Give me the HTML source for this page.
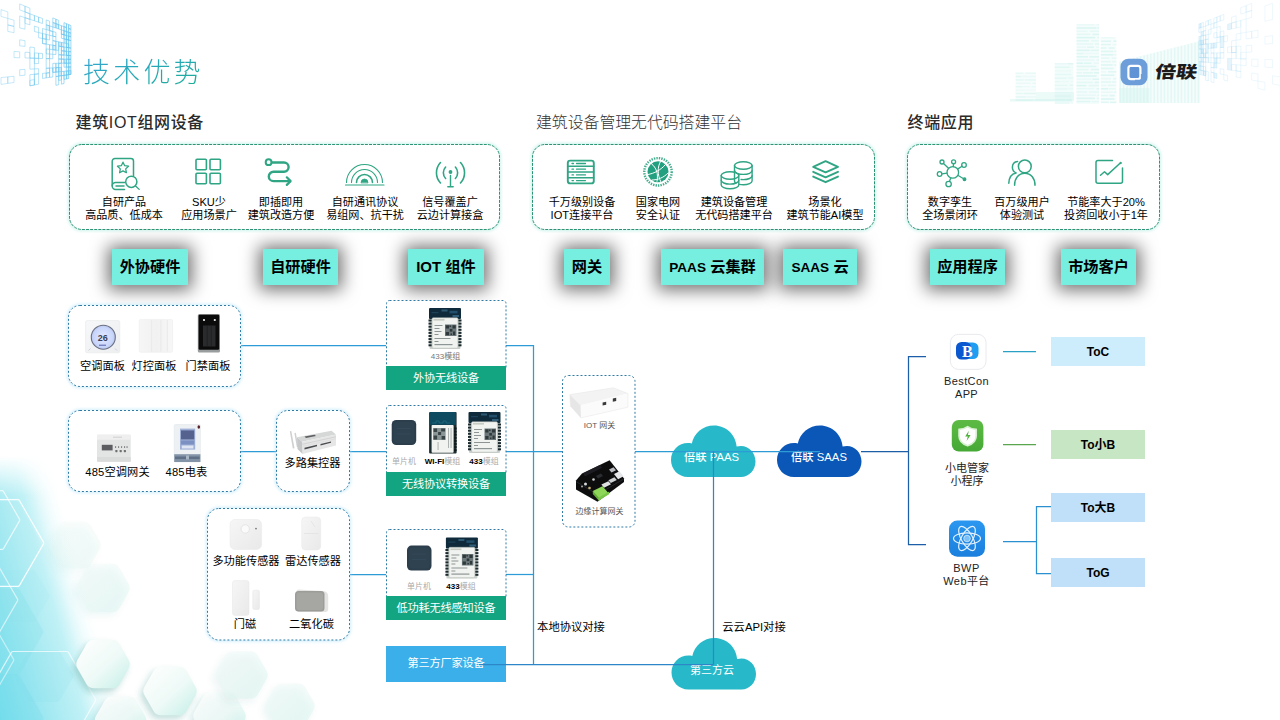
<!DOCTYPE html>
<html lang="zh-CN">
<head>
<meta charset="utf-8">
<title>技术优势</title>
<style>
*{margin:0;padding:0;box-sizing:border-box}
html,body{width:1280px;height:720px;overflow:hidden;background:#fff}
body{font-family:"Liberation Sans","Noto Sans CJK SC",sans-serif;color:#000}
#stage{position:relative;width:1280px;height:720px;overflow:hidden;background:#fff}
.abs{position:absolute}
svg{position:absolute;left:0;top:0;overflow:visible}
.title{position:absolute;left:83px;top:53px;font-size:27px;font-weight:300;letter-spacing:3.2px;line-height:40px;white-space:nowrap;
 background:linear-gradient(160deg,#3aa6d8 0%,#22a9b4 50%,#1fae8e 100%);-webkit-background-clip:text;background-clip:text;color:transparent}
.h{position:absolute;top:111.2px;font-size:16px;letter-spacing:.65px;line-height:24px;white-space:nowrap;color:#2b2b2b}
.h.m{font-weight:500;color:#2a2a2a}
.h.l{font-weight:300;color:#333;letter-spacing:0;font-size:15.85px}
.dbox{position:absolute;border:1px dashed #36a98c;border-radius:18px;background:#fff;box-shadow:0 0 6px 2px rgba(120,225,205,.2)}
.it{position:absolute;top:195.7px;width:120px;margin-left:-60px;text-align:center;font-size:11.1px;line-height:13px;white-space:nowrap;color:#000;letter-spacing:0}
.tag{position:absolute;top:249px;height:36px;background:#76efe1;box-shadow:0 1px 17px 4px rgba(0,0,0,.56);font-weight:700;font-size:15.2px;line-height:35px;text-align:center;white-space:nowrap;color:#000}
.tag i{font-style:normal;font-size:13.6px}
.bbox{position:absolute;border:1px dashed #3c93c4;border-radius:16px;background:#fff;box-shadow:0 0 5px 1px rgba(150,215,245,.35)}
.lb{position:absolute;font-size:11.2px;line-height:13px;white-space:nowrap;text-align:center;color:#000;transform:translateX(-50%)}
.sm{position:absolute;font-size:8px;line-height:10px;white-space:nowrap;color:#8a8a8a;transform:translateX(-50%)}
.sm b{color:#000;font-weight:700}
.cbox{position:absolute;left:386px;width:120px;border:1px dashed #3384b4;border-radius:3px;background:#fff}
.gbar{position:absolute;left:386px;width:120px;height:24px;background:#13a582;color:#fff;font-size:11.2px;line-height:25px;text-align:center;white-space:nowrap;letter-spacing:-.2px}
.tobox{position:absolute;left:1051px;width:94px;height:29px;font-weight:700;font-size:12px;line-height:30px;text-align:center;color:#000}
.app{position:absolute;font-size:11px;line-height:13px;text-align:center;white-space:nowrap;color:#222;transform:translateX(-50%);letter-spacing:.4px}
.ct{position:absolute;font-size:11.3px;line-height:14px;color:#fff;white-space:nowrap;transform:translateX(-50%);font-weight:500}
</style>
</head>
<body>
<div id="stage">
<!-- decorative background -->
<svg width="1280" height="720" viewBox="0 0 1280 720">
<defs>
 <linearGradient id="gCy" gradientUnits="userSpaceOnUse" x1="-43.600" y1="564.600" x2="72.900" y2="532.200"><stop offset="0" stop-color="#76deec"/><stop offset=".265" stop-color="#92e5f0"/><stop offset=".51" stop-color="#afecf3"/><stop offset=".68" stop-color="#c0f1f6"/><stop offset=".76" stop-color="#d6f6f9"/><stop offset="1" stop-color="#ffffff" stop-opacity="0"/></linearGradient>
 <linearGradient id="gCyV" gradientUnits="userSpaceOnUse" x1="0" y1="456" x2="0" y2="496"><stop offset="0" stop-color="#fff" stop-opacity="1"/><stop offset="1" stop-color="#fff" stop-opacity="0"/></linearGradient>
 <linearGradient id="gHex" x1="0" y1="0" x2="1" y2="1"><stop offset="0" stop-color="#ffffff"/><stop offset=".55" stop-color="#eefaf7"/><stop offset="1" stop-color="#c4eee6"/></linearGradient>
 <linearGradient id="gHex2" x1="0" y1="0" x2="1" y2="1"><stop offset="0" stop-color="#f4fcfa"/><stop offset="1" stop-color="#d3f3ec"/></linearGradient>
 <filter id="fSh" x="-30%" y="-30%" width="160%" height="160%"><feGaussianBlur stdDeviation="3"/></filter>
 <filter id="fB2" x="-10%" y="-10%" width="120%" height="120%"><feGaussianBlur stdDeviation=".6"/></filter>
 <filter id="fB1" x="-10%" y="-10%" width="120%" height="120%"><feGaussianBlur stdDeviation=".35"/></filter>
</defs>
<g>
<rect x="0" y="455" width="140" height="265" fill="url(#gCy)"/>
<path d="M41.0 543.3Q42.0 545.0 41.0 546.7L18.0 586.6Q17.0 588.3 15.0 588.3L-31.0 588.3Q-33.0 588.3 -34.0 586.6L-57.0 546.7Q-58.0 545.0 -57.0 543.3L-34.0 503.4Q-33.0 501.7 -31.0 501.7L15.0 501.7Q17.0 501.7 18.0 503.4Z" fill="#8fe2ec" fill-opacity="0.07"/>
<path d="M43.0 630.3Q44.0 632.0 43.0 633.7L20.0 673.6Q19.0 675.3 17.0 675.3L-29.0 675.3Q-31.0 675.3 -32.0 673.6L-55.0 633.7Q-56.0 632.0 -55.0 630.3L-32.0 590.4Q-31.0 588.7 -29.0 588.7L17.0 588.7Q19.0 588.7 20.0 590.4Z" fill="#74dae8" fill-opacity="0.2"/>
<path d="M43.0 716.3Q44.0 718.0 43.0 719.7L20.0 759.6Q19.0 761.3 17.0 761.3L-29.0 761.3Q-31.0 761.3 -32.0 759.6L-55.0 719.7Q-56.0 718.0 -55.0 716.3L-32.0 676.4Q-31.0 674.7 -29.0 674.7L17.0 674.7Q19.0 674.7 20.0 676.4Z" fill="#6ad6e6" fill-opacity="0.22"/>
<path d="M73.0 674.3Q74.0 676.0 73.0 677.7L60.0 700.2Q59.0 702.0 57.0 702.0L31.0 702.0Q29.0 702.0 28.0 700.2L15.0 677.7Q14.0 676.0 15.0 674.3L28.0 651.8Q29.0 650.0 31.0 650.0L57.0 650.0Q59.0 650.0 60.0 651.8Z" fill="#7fdde9" fill-opacity="0.14"/>
<path d="M49.0 594.3Q50.0 596.0 49.0 597.7L36.0 620.2Q35.0 622.0 33.0 622.0L7.0 622.0Q5.0 622.0 4.0 620.2L-9.0 597.7Q-10.0 596.0 -9.0 594.3L4.0 571.8Q5.0 570.0 7.0 570.0L33.0 570.0Q35.0 570.0 36.0 571.8Z" fill="#86dde8" fill-opacity="0.1"/>
<path d="M43.5 542.1Q44.0 543.0 43.5 543.9L19.5 585.4Q19.0 586.3 18.0 586.3L-30.0 586.3Q-31.0 586.3 -31.5 585.4L-55.5 543.9Q-56.0 543.0 -55.5 542.1L-31.5 500.6Q-31.0 499.7 -30.0 499.7L18.0 499.7Q19.0 499.7 19.5 500.6Z" fill="none" stroke="#fff" stroke-opacity="0.9" stroke-width="1.200"/>
<path d="M19.5 519.1Q20.0 520.0 19.5 520.9L3.5 548.6Q3.0 549.4 2.0 549.4L-30.0 549.4Q-31.0 549.4 -31.5 548.6L-47.5 520.9Q-48.0 520.0 -47.5 519.1L-31.5 491.4Q-31.0 490.6 -30.0 490.6L2.0 490.6Q3.0 490.6 3.5 491.4Z" fill="none" stroke="#fff" stroke-opacity="0.7" stroke-width="1.200"/>
<path d="M17.5 599.1Q18.0 600.0 17.5 600.9L-1.5 633.8Q-2.0 634.6 -3.0 634.6L-41.0 634.6Q-42.0 634.6 -42.5 633.8L-61.5 600.9Q-62.0 600.0 -61.5 599.1L-42.5 566.2Q-42.0 565.4 -41.0 565.4L-3.0 565.4Q-2.0 565.4 -1.5 566.2Z" fill="none" stroke="#fff" stroke-opacity="0.6" stroke-width="1.200"/>
<path d="M95.5 699.1Q96.0 700.0 95.5 700.9L68.5 747.6Q68.0 748.5 67.0 748.5L13.0 748.5Q12.0 748.5 11.5 747.6L-15.5 700.9Q-16.0 700.0 -15.5 699.1L11.5 652.4Q12.0 651.5 13.0 651.5L67.0 651.5Q68.0 651.5 68.5 652.4Z" fill="none" stroke="#fff" stroke-opacity="0.7" stroke-width="1.200"/>
<path d="M13.5 659.1Q14.0 660.0 13.5 660.9L-7.5 697.2Q-8.0 698.1 -9.0 698.1L-51.0 698.1Q-52.0 698.1 -52.5 697.2L-73.5 660.9Q-74.0 660.0 -73.5 659.1L-52.5 622.8Q-52.0 621.9 -51.0 621.9L-9.0 621.9Q-8.0 621.9 -7.5 622.8Z" fill="none" stroke="#fff" stroke-opacity="0.5" stroke-width="1.200"/>
<rect x="0" y="450" width="140" height="60" fill="url(#gCyV)"/>
</g>
<path d="M128.5 583.7Q131.0 588.0 128.5 592.3L119.5 607.9Q117.0 612.2 112.0 612.2L94.0 612.2Q89.0 612.2 86.5 607.9L77.5 592.3Q75.0 588.0 77.5 583.7L86.5 568.1Q89.0 563.8 94.0 563.8L112.0 563.8Q117.0 563.8 119.5 568.1Z" transform="translate(-3,4)" fill="#2f8f86" fill-opacity="0.06" filter="url(#fSh)"/>
<path d="M128.5 583.7Q131.0 588.0 128.5 592.3L119.5 607.9Q117.0 612.2 112.0 612.2L94.0 612.2Q89.0 612.2 86.5 607.9L77.5 592.3Q75.0 588.0 77.5 583.7L86.5 568.1Q89.0 563.8 94.0 563.8L112.0 563.8Q117.0 563.8 119.5 568.1Z" fill="url(#gHex2)" fill-opacity="0.4"/>
<path d="M99.5 540.7Q102.0 545.0 99.5 549.3L91.0 564.1Q88.5 568.4 83.5 568.4L66.5 568.4Q61.5 568.4 59.0 564.1L50.5 549.3Q48.0 545.0 50.5 540.7L59.0 525.9Q61.5 521.6 66.5 521.6L83.5 521.6Q88.5 521.6 91.0 525.9Z" transform="translate(-3,4)" fill="#2f8f86" fill-opacity="0.04" filter="url(#fSh)"/>
<path d="M99.5 540.7Q102.0 545.0 99.5 549.3L91.0 564.1Q88.5 568.4 83.5 568.4L66.5 568.4Q61.5 568.4 59.0 564.1L50.5 549.3Q48.0 545.0 50.5 540.7L59.0 525.9Q61.5 521.6 66.5 521.6L83.5 521.6Q88.5 521.6 91.0 525.9Z" fill="url(#gHex2)" fill-opacity="0.25"/>
<path d="M128.5 659.7Q131.0 664.0 128.5 668.3L119.5 683.9Q117.0 688.2 112.0 688.2L94.0 688.2Q89.0 688.2 86.5 683.9L77.5 668.3Q75.0 664.0 77.5 659.7L86.5 644.1Q89.0 639.8 94.0 639.8L112.0 639.8Q117.0 639.8 119.5 644.1Z" transform="translate(-3,4)" fill="#2f8f86" fill-opacity="0.3" filter="url(#fSh)"/>
<path d="M128.5 659.7Q131.0 664.0 128.5 668.3L119.5 683.9Q117.0 688.2 112.0 688.2L94.0 688.2Q89.0 688.2 86.5 683.9L77.5 668.3Q75.0 664.0 77.5 659.7L86.5 644.1Q89.0 639.8 94.0 639.8L112.0 639.8Q117.0 639.8 119.5 644.1Z" fill="url(#gHex)" fill-opacity="1"/>
<path d="M195.5 686.7Q198.0 691.0 195.5 695.3L186.5 710.9Q184.0 715.2 179.0 715.2L161.0 715.2Q156.0 715.2 153.5 710.9L144.5 695.3Q142.0 691.0 144.5 686.7L153.5 671.1Q156.0 666.8 161.0 666.8L179.0 666.8Q184.0 666.8 186.5 671.1Z" transform="translate(-3,4)" fill="#2f8f86" fill-opacity="0.28" filter="url(#fSh)"/>
<path d="M195.5 686.7Q198.0 691.0 195.5 695.3L186.5 710.9Q184.0 715.2 179.0 715.2L161.0 715.2Q156.0 715.2 153.5 710.9L144.5 695.3Q142.0 691.0 144.5 686.7L153.5 671.1Q156.0 666.8 161.0 666.8L179.0 666.8Q184.0 666.8 186.5 671.1Z" fill="url(#gHex)" fill-opacity="1"/>
<path d="M145.0 715.7Q147.5 720.0 145.0 724.3L136.5 739.1Q134.0 743.4 129.0 743.4L112.0 743.4Q107.0 743.4 104.5 739.1L96.0 724.3Q93.5 720.0 96.0 715.7L104.5 700.9Q107.0 696.6 112.0 696.6L129.0 696.6Q134.0 696.6 136.5 700.9Z" transform="translate(-3,4)" fill="#2f8f86" fill-opacity="0.25" filter="url(#fSh)"/>
<path d="M145.0 715.7Q147.5 720.0 145.0 724.3L136.5 739.1Q134.0 743.4 129.0 743.4L112.0 743.4Q107.0 743.4 104.5 739.1L96.0 724.3Q93.5 720.0 96.0 715.7L104.5 700.9Q107.0 696.6 112.0 696.6L129.0 696.6Q134.0 696.6 136.5 700.9Z" fill="url(#gHex)" fill-opacity="0.9"/>
<path d="M244.5 711.7Q247.0 716.0 244.5 720.3L235.8 735.5Q233.2 739.8 228.2 739.8L210.8 739.8Q205.8 739.8 203.2 735.5L194.5 720.3Q192.0 716.0 194.5 711.7L203.2 696.5Q205.8 692.2 210.8 692.2L228.2 692.2Q233.2 692.2 235.8 696.5Z" transform="translate(-3,4)" fill="#2f8f86" fill-opacity="0.2" filter="url(#fSh)"/>
<path d="M244.5 711.7Q247.0 716.0 244.5 720.3L235.8 735.5Q233.2 739.8 228.2 739.8L210.8 739.8Q205.8 739.8 203.2 735.5L194.5 720.3Q192.0 716.0 194.5 711.7L203.2 696.5Q205.8 692.2 210.8 692.2L228.2 692.2Q233.2 692.2 235.8 696.5Z" fill="url(#gHex)" fill-opacity="0.85"/>
<path d="M266.5 670.7Q269.0 675.0 266.5 679.3L257.8 694.5Q255.2 698.8 250.2 698.8L232.8 698.8Q227.8 698.8 225.2 694.5L216.5 679.3Q214.0 675.0 216.5 670.7L225.2 655.5Q227.8 651.2 232.8 651.2L250.2 651.2Q255.2 651.2 257.8 655.5Z" transform="translate(-3,4)" fill="#2f8f86" fill-opacity="0.08" filter="url(#fSh)"/>
<path d="M266.5 670.7Q269.0 675.0 266.5 679.3L257.8 694.5Q255.2 698.8 250.2 698.8L232.8 698.8Q227.8 698.8 225.2 694.5L216.5 679.3Q214.0 675.0 216.5 670.7L225.2 655.5Q227.8 651.2 232.8 651.2L250.2 651.2Q255.2 651.2 257.8 655.5Z" fill="url(#gHex2)" fill-opacity="0.5"/>
<path d="M313.5 701.7Q316.0 706.0 313.5 710.3L305.5 724.2Q303.0 728.5 298.0 728.5L282.0 728.5Q277.0 728.5 274.5 724.2L266.5 710.3Q264.0 706.0 266.5 701.7L274.5 687.8Q277.0 683.5 282.0 683.5L298.0 683.5Q303.0 683.5 305.5 687.8Z" transform="translate(-3,4)" fill="#2f8f86" fill-opacity="0.07" filter="url(#fSh)"/>
<path d="M313.5 701.7Q316.0 706.0 313.5 710.3L305.5 724.2Q303.0 728.5 298.0 728.5L282.0 728.5Q277.0 728.5 274.5 724.2L266.5 710.3Q264.0 706.0 266.5 701.7L274.5 687.8Q277.0 683.5 282.0 683.5L298.0 683.5Q303.0 683.5 305.5 687.8Z" fill="url(#gHex2)" fill-opacity="0.45"/>
<g filter="url(#fB1)">
<polygon points="1.0,9.6 7.8,11.9 7.8,18.4 1.0,16.4" fill="none" fill-opacity=".25" stroke="#6cc6ee" stroke-opacity="0.52" stroke-width=".700"/>
<polygon points="1.0,77.6 7.8,76.9 7.8,83.4 1.0,84.4" fill="none" fill-opacity=".25" stroke="#6cc6ee" stroke-opacity="0.52" stroke-width=".700"/>
<polygon points="7.8,18.4 14.0,20.2 14.0,26.4 7.8,24.9" fill="none" fill-opacity=".25" stroke="#6cc6ee" stroke-opacity="0.55" stroke-width=".700"/>
<polygon points="7.8,24.9 14.0,26.4 14.0,32.7 7.8,31.4" fill="none" fill-opacity=".25" stroke="#6cc6ee" stroke-opacity="0.55" stroke-width=".700"/>
<polygon points="7.8,76.9 14.0,76.3 14.0,82.5 7.8,83.4" fill="none" fill-opacity=".25" stroke="#6cc6ee" stroke-opacity="0.55" stroke-width=".700"/>
<polygon points="14.0,51.4 19.7,51.8 19.7,57.8 14.0,57.6" fill="none" fill-opacity=".25" stroke="#6cc6ee" stroke-opacity="0.57" stroke-width=".700"/>
<polygon points="19.7,3.9 25.0,6.2 25.0,11.9 19.7,9.9" fill="none" fill-opacity=".25" stroke="#6cc6ee" stroke-opacity="0.60" stroke-width=".700"/>
<polygon points="19.7,15.9 25.0,17.7 25.0,29.2 19.7,27.9" fill="none" fill-opacity=".25" stroke="#6cc6ee" stroke-opacity="0.60" stroke-width=".700"/>
<polygon points="19.7,39.8 25.0,40.7 25.0,46.4 19.7,45.8" fill="none" fill-opacity=".25" stroke="#6cc6ee" stroke-opacity="0.60" stroke-width=".700"/>
<polygon points="19.7,69.7 25.0,69.4 25.0,75.2 19.7,75.7" fill="none" fill-opacity=".25" stroke="#6cc6ee" stroke-opacity="0.60" stroke-width=".700"/>
<polygon points="25.0,6.2 29.9,8.2 29.9,13.8 25.0,11.9" fill="none" fill-opacity=".25" stroke="#6cc6ee" stroke-opacity="0.62" stroke-width=".700"/>
<polygon points="25.0,11.9 29.9,13.8 29.9,19.3 25.0,17.7" fill="none" fill-opacity=".25" stroke="#6cc6ee" stroke-opacity="0.62" stroke-width=".700"/>
<polygon points="25.0,17.7 29.9,19.3 29.9,24.8 25.0,23.4" fill="none" fill-opacity=".25" stroke="#6cc6ee" stroke-opacity="0.62" stroke-width=".700"/>
<polygon points="25.0,52.2 29.9,52.5 29.9,58.1 25.0,57.9" fill="none" fill-opacity=".25" stroke="#6cc6ee" stroke-opacity="0.62" stroke-width=".700"/>
<polygon points="29.9,13.8 34.4,15.5 34.4,20.8 29.9,19.3" fill="none" fill-opacity=".25" stroke="#6cc6ee" stroke-opacity="0.65" stroke-width=".700"/>
<polygon points="29.9,47.0 34.4,47.5 34.4,58.2 29.9,58.1" fill="none" fill-opacity=".25" stroke="#6cc6ee" stroke-opacity="0.65" stroke-width=".700"/>
<polygon points="29.9,58.1 34.4,58.2 34.4,68.9 29.9,69.2" fill="none" fill-opacity=".25" stroke="#6cc6ee" stroke-opacity="0.65" stroke-width=".700"/>
<polygon points="29.9,74.7 34.4,74.3 34.4,85.0 29.9,85.8" fill="none" fill-opacity=".25" stroke="#6cc6ee" stroke-opacity="0.65" stroke-width=".700"/>
<polygon points="29.9,80.3 34.4,79.6 34.4,85.0 29.9,85.8" fill="none" fill-opacity=".25" stroke="#6cc6ee" stroke-opacity="0.65" stroke-width=".700"/>
<polygon points="34.4,15.5 38.6,17.1 38.6,22.2 34.4,20.8" fill="none" fill-opacity=".25" stroke="#6cc6ee" stroke-opacity="0.67" stroke-width=".700"/>
<polygon points="34.4,26.2 38.6,27.4 38.6,32.5 34.4,31.5" fill="none" fill-opacity=".25" stroke="#6cc6ee" stroke-opacity="0.67" stroke-width=".700"/>
<polygon points="34.4,52.9 38.6,53.2 38.6,58.4 34.4,58.2" fill="none" fill-opacity=".25" stroke="#6cc6ee" stroke-opacity="0.67" stroke-width=".700"/>
<polygon points="34.4,58.2 38.6,58.4 38.6,63.5 34.4,63.6" fill="none" fill-opacity=".25" stroke="#6cc6ee" stroke-opacity="0.67" stroke-width=".700"/>
<polygon points="34.4,68.9 38.6,68.7 38.6,73.8 34.4,74.3" fill="none" fill-opacity=".25" stroke="#6cc6ee" stroke-opacity="0.67" stroke-width=".700"/>
<polygon points="34.4,74.3 38.6,73.8 38.6,84.2 34.4,85.0" fill="none" fill-opacity=".25" stroke="#6cc6ee" stroke-opacity="0.67" stroke-width=".700"/>
<polygon points="38.6,17.1 42.5,18.5 42.5,23.5 38.6,22.2" fill="none" fill-opacity=".25" stroke="#6cc6ee" stroke-opacity="0.70" stroke-width=".700"/>
<polygon points="38.6,32.5 42.5,33.5 42.5,38.5 38.6,37.7" fill="none" fill-opacity=".25" stroke="#6cc6ee" stroke-opacity="0.70" stroke-width=".700"/>
<polygon points="38.6,53.2 42.5,53.5 42.5,58.5 38.6,58.4" fill="none" fill-opacity=".25" stroke="#6cc6ee" stroke-opacity="0.70" stroke-width=".700"/>
<polygon points="42.5,28.5 46.2,29.6 46.2,39.3 42.5,38.5" fill="none" fill-opacity=".25" stroke="#6cc6ee" stroke-opacity="0.72" stroke-width=".700"/>
<polygon points="42.5,33.5 46.2,34.4 46.2,44.1 42.5,43.5" fill="none" fill-opacity=".25" stroke="#6cc6ee" stroke-opacity="0.72" stroke-width=".700"/>
<polygon points="42.5,38.5 46.2,39.3 46.2,44.1 42.5,43.5" fill="none" fill-opacity=".25" stroke="#6cc6ee" stroke-opacity="0.72" stroke-width=".700"/>
<polygon points="42.5,73.4 46.2,73.1 46.2,77.9 42.5,78.4" fill="none" fill-opacity=".25" stroke="#6cc6ee" stroke-opacity="0.72" stroke-width=".700"/>
<polygon points="46.2,19.9 49.6,21.2 49.6,25.9 46.2,24.8" fill="none" fill-opacity=".25" stroke="#6cc6ee" stroke-opacity="0.75" stroke-width=".700"/>
<polygon points="46.2,24.8 49.6,25.9 49.6,30.6 46.2,29.6" fill="#6cc6ee" fill-opacity=".25" stroke="#6cc6ee" stroke-opacity="0.75" stroke-width=".700"/>
<polygon points="46.2,34.4 49.6,35.3 49.6,40.0 46.2,39.3" fill="none" fill-opacity=".25" stroke="#6cc6ee" stroke-opacity="0.75" stroke-width=".700"/>
<polygon points="46.2,44.1 49.6,44.7 49.6,54.0 46.2,53.8" fill="none" fill-opacity=".25" stroke="#6cc6ee" stroke-opacity="0.75" stroke-width=".700"/>
<polygon points="46.2,48.9 49.6,49.3 49.6,58.7 46.2,58.6" fill="none" fill-opacity=".25" stroke="#6cc6ee" stroke-opacity="0.75" stroke-width=".700"/>
<polygon points="46.2,58.6 49.6,58.7 49.6,68.1 46.2,68.3" fill="none" fill-opacity=".25" stroke="#6cc6ee" stroke-opacity="0.75" stroke-width=".700"/>
<polygon points="46.2,68.3 49.6,68.1 49.6,72.7 46.2,73.1" fill="none" fill-opacity=".25" stroke="#6cc6ee" stroke-opacity="0.75" stroke-width=".700"/>
<polygon points="46.2,73.1 49.6,72.7 49.6,77.4 46.2,77.9" fill="none" fill-opacity=".25" stroke="#6cc6ee" stroke-opacity="0.75" stroke-width=".700"/>
<polygon points="49.6,25.9 52.8,27.0 52.8,31.5 49.6,30.6" fill="none" fill-opacity=".25" stroke="#6cc6ee" stroke-opacity="0.77" stroke-width=".700"/>
<polygon points="49.6,30.6 52.8,31.5 52.8,36.1 49.6,35.3" fill="none" fill-opacity=".25" stroke="#6cc6ee" stroke-opacity="0.77" stroke-width=".700"/>
<polygon points="49.6,44.7 52.8,45.2 52.8,49.7 49.6,49.3" fill="none" fill-opacity=".25" stroke="#6cc6ee" stroke-opacity="0.77" stroke-width=".700"/>
<polygon points="49.6,54.0 52.8,54.3 52.8,58.8 49.6,58.7" fill="none" fill-opacity=".25" stroke="#6cc6ee" stroke-opacity="0.77" stroke-width=".700"/>
<polygon points="49.6,68.1 52.8,67.9 52.8,77.0 49.6,77.4" fill="none" fill-opacity=".25" stroke="#6cc6ee" stroke-opacity="0.77" stroke-width=".700"/>
<polygon points="52.8,17.9 55.9,19.2 55.9,23.6 52.8,22.5" fill="none" fill-opacity=".25" stroke="#6cc6ee" stroke-opacity="0.80" stroke-width=".700"/>
<polygon points="52.8,22.5 55.9,23.6 55.9,28.0 52.8,27.0" fill="#6cc6ee" fill-opacity=".25" stroke="#6cc6ee" stroke-opacity="0.80" stroke-width=".700"/>
<polygon points="52.8,31.5 55.9,32.4 55.9,36.8 52.8,36.1" fill="none" fill-opacity=".25" stroke="#6cc6ee" stroke-opacity="0.80" stroke-width=".700"/>
<polygon points="52.8,36.1 55.9,36.8 55.9,41.3 52.8,40.6" fill="none" fill-opacity=".25" stroke="#6cc6ee" stroke-opacity="0.80" stroke-width=".700"/>
<polygon points="52.8,40.6 55.9,41.3 55.9,45.7 52.8,45.2" fill="none" fill-opacity=".25" stroke="#6cc6ee" stroke-opacity="0.80" stroke-width=".700"/>
<polygon points="52.8,45.2 55.9,45.7 55.9,50.1 52.8,49.7" fill="#6cc6ee" fill-opacity=".25" stroke="#6cc6ee" stroke-opacity="0.80" stroke-width=".700"/>
<polygon points="52.8,49.7 55.9,50.1 55.9,54.5 52.8,54.3" fill="none" fill-opacity=".25" stroke="#6cc6ee" stroke-opacity="0.80" stroke-width=".700"/>
<polygon points="52.8,63.3 55.9,63.3 55.9,72.1 52.8,72.4" fill="none" fill-opacity=".25" stroke="#6cc6ee" stroke-opacity="0.80" stroke-width=".700"/>
<polygon points="52.8,67.9 55.9,67.7 55.9,72.1 52.8,72.4" fill="none" fill-opacity=".25" stroke="#6cc6ee" stroke-opacity="0.80" stroke-width=".700"/>
<polygon points="55.9,19.2 58.7,20.4 58.7,24.7 55.9,23.6" fill="none" fill-opacity=".25" stroke="#6cc6ee" stroke-opacity="0.82" stroke-width=".700"/>
<polygon points="55.9,23.6 58.7,24.7 58.7,29.0 55.9,28.0" fill="#6cc6ee" fill-opacity=".25" stroke="#6cc6ee" stroke-opacity="0.82" stroke-width=".700"/>
<polygon points="55.9,41.3 58.7,41.8 58.7,50.4 55.9,50.1" fill="none" fill-opacity=".25" stroke="#6cc6ee" stroke-opacity="0.82" stroke-width=".700"/>
<polygon points="55.9,63.3 58.7,63.3 58.7,67.5 55.9,67.7" fill="none" fill-opacity=".25" stroke="#6cc6ee" stroke-opacity="0.82" stroke-width=".700"/>
<polygon points="55.9,67.7 58.7,67.5 58.7,71.8 55.9,72.1" fill="none" fill-opacity=".25" stroke="#6cc6ee" stroke-opacity="0.82" stroke-width=".700"/>
<polygon points="55.9,72.1 58.7,71.8 58.7,76.1 55.9,76.5" fill="none" fill-opacity=".25" stroke="#6cc6ee" stroke-opacity="0.82" stroke-width=".700"/>
<polygon points="55.9,76.5 58.7,76.1 58.7,84.7 55.9,85.3" fill="none" fill-opacity=".25" stroke="#6cc6ee" stroke-opacity="0.82" stroke-width=".700"/>
<polygon points="58.7,24.7 61.4,25.7 61.4,29.9 58.7,29.0" fill="none" fill-opacity=".25" stroke="#6cc6ee" stroke-opacity="0.85" stroke-width=".700"/>
<polygon points="58.7,41.8 61.4,42.4 61.4,46.6 58.7,46.1" fill="#6cc6ee" fill-opacity=".25" stroke="#6cc6ee" stroke-opacity="0.85" stroke-width=".700"/>
<polygon points="58.7,46.1 61.4,46.6 61.4,54.9 58.7,54.7" fill="none" fill-opacity=".25" stroke="#6cc6ee" stroke-opacity="0.85" stroke-width=".700"/>
<polygon points="58.7,54.7 61.4,54.9 61.4,59.1 58.7,59.0" fill="none" fill-opacity=".25" stroke="#6cc6ee" stroke-opacity="0.85" stroke-width=".700"/>
<polygon points="58.7,59.0 61.4,59.1 61.4,63.2 58.7,63.3" fill="none" fill-opacity=".25" stroke="#6cc6ee" stroke-opacity="0.85" stroke-width=".700"/>
<polygon points="58.7,63.3 61.4,63.2 61.4,71.6 58.7,71.8" fill="none" fill-opacity=".25" stroke="#6cc6ee" stroke-opacity="0.85" stroke-width=".700"/>
<polygon points="58.7,67.5 61.4,67.4 61.4,75.7 58.7,76.1" fill="#6cc6ee" fill-opacity=".25" stroke="#6cc6ee" stroke-opacity="0.85" stroke-width=".700"/>
<polygon points="58.7,76.1 61.4,75.7 61.4,79.9 58.7,80.4" fill="none" fill-opacity=".25" stroke="#6cc6ee" stroke-opacity="0.85" stroke-width=".700"/>
<polygon points="61.4,25.7 64.0,26.7 64.0,34.8 61.4,34.1" fill="none" fill-opacity=".25" stroke="#6cc6ee" stroke-opacity="0.87" stroke-width=".700"/>
<polygon points="61.4,29.9 64.0,30.7 64.0,34.8 61.4,34.1" fill="none" fill-opacity=".25" stroke="#6cc6ee" stroke-opacity="0.87" stroke-width=".700"/>
<polygon points="61.4,34.1 64.0,34.8 64.0,38.9 61.4,38.2" fill="none" fill-opacity=".25" stroke="#6cc6ee" stroke-opacity="0.87" stroke-width=".700"/>
<polygon points="61.4,42.4 64.0,42.9 64.0,47.0 61.4,46.6" fill="#6cc6ee" fill-opacity=".25" stroke="#6cc6ee" stroke-opacity="0.87" stroke-width=".700"/>
<polygon points="61.4,46.6 64.0,47.0 64.0,51.0 61.4,50.7" fill="none" fill-opacity=".25" stroke="#6cc6ee" stroke-opacity="0.87" stroke-width=".700"/>
<polygon points="61.4,50.7 64.0,51.0 64.0,55.1 61.4,54.9" fill="none" fill-opacity=".25" stroke="#6cc6ee" stroke-opacity="0.87" stroke-width=".700"/>
<polygon points="61.4,54.9 64.0,55.1 64.0,59.1 61.4,59.1" fill="none" fill-opacity=".25" stroke="#6cc6ee" stroke-opacity="0.87" stroke-width=".700"/>
<polygon points="61.4,59.1 64.0,59.1 64.0,63.2 61.4,63.2" fill="none" fill-opacity=".25" stroke="#6cc6ee" stroke-opacity="0.87" stroke-width=".700"/>
<polygon points="61.4,71.6 64.0,71.3 64.0,75.4 61.4,75.7" fill="none" fill-opacity=".25" stroke="#6cc6ee" stroke-opacity="0.87" stroke-width=".700"/>
<polygon points="61.4,75.7 64.0,75.4 64.0,83.5 61.4,84.1" fill="none" fill-opacity=".25" stroke="#6cc6ee" stroke-opacity="0.87" stroke-width=".700"/>
<polygon points="64.0,22.6 66.4,23.7 66.4,27.6 64.0,26.7" fill="none" fill-opacity=".25" stroke="#6cc6ee" stroke-opacity="0.90" stroke-width=".700"/>
<polygon points="64.0,26.7 66.4,27.6 66.4,31.6 64.0,30.7" fill="none" fill-opacity=".25" stroke="#6cc6ee" stroke-opacity="0.90" stroke-width=".700"/>
<polygon points="64.0,30.7 66.4,31.6 66.4,35.5 64.0,34.8" fill="none" fill-opacity=".25" stroke="#6cc6ee" stroke-opacity="0.90" stroke-width=".700"/>
<polygon points="64.0,34.8 66.4,35.5 66.4,39.5 64.0,38.9" fill="none" fill-opacity=".25" stroke="#6cc6ee" stroke-opacity="0.90" stroke-width=".700"/>
<polygon points="64.0,38.9 66.4,39.5 66.4,43.4 64.0,42.9" fill="#6cc6ee" fill-opacity=".25" stroke="#6cc6ee" stroke-opacity="0.90" stroke-width=".700"/>
<polygon points="64.0,47.0 66.4,47.4 66.4,51.3 64.0,51.0" fill="none" fill-opacity=".25" stroke="#6cc6ee" stroke-opacity="0.90" stroke-width=".700"/>
<polygon points="64.0,51.0 66.4,51.3 66.4,55.3 64.0,55.1" fill="none" fill-opacity=".25" stroke="#6cc6ee" stroke-opacity="0.90" stroke-width=".700"/>
<polygon points="64.0,59.1 66.4,59.2 66.4,63.2 64.0,63.2" fill="#6cc6ee" fill-opacity=".25" stroke="#6cc6ee" stroke-opacity="0.90" stroke-width=".700"/>
<polygon points="64.0,63.2 66.4,63.2 66.4,67.1 64.0,67.2" fill="none" fill-opacity=".25" stroke="#6cc6ee" stroke-opacity="0.90" stroke-width=".700"/>
<polygon points="64.0,71.3 66.4,71.1 66.4,75.0 64.0,75.4" fill="none" fill-opacity=".25" stroke="#6cc6ee" stroke-opacity="0.90" stroke-width=".700"/>
<polygon points="64.0,75.4 66.4,75.0 66.4,79.0 64.0,79.4" fill="none" fill-opacity=".25" stroke="#6cc6ee" stroke-opacity="0.90" stroke-width=".700"/>
<polygon points="66.4,23.7 68.7,24.6 68.7,32.3 66.4,31.6" fill="none" fill-opacity=".25" stroke="#6cc6ee" stroke-opacity="0.92" stroke-width=".700"/>
<polygon points="66.4,31.6 68.7,32.3 68.7,40.0 66.4,39.5" fill="#6cc6ee" fill-opacity=".25" stroke="#6cc6ee" stroke-opacity="0.92" stroke-width=".700"/>
<polygon points="66.4,35.5 68.7,36.2 68.7,40.0 66.4,39.5" fill="none" fill-opacity=".25" stroke="#6cc6ee" stroke-opacity="0.92" stroke-width=".700"/>
<polygon points="66.4,39.5 68.7,40.0 68.7,47.7 66.4,47.4" fill="none" fill-opacity=".25" stroke="#6cc6ee" stroke-opacity="0.92" stroke-width=".700"/>
<polygon points="66.4,43.4 68.7,43.9 68.7,47.7 66.4,47.4" fill="#6cc6ee" fill-opacity=".25" stroke="#6cc6ee" stroke-opacity="0.92" stroke-width=".700"/>
<polygon points="66.4,47.4 68.7,47.7 68.7,55.4 66.4,55.3" fill="none" fill-opacity=".25" stroke="#6cc6ee" stroke-opacity="0.92" stroke-width=".700"/>
<polygon points="66.4,51.3 68.7,51.6 68.7,55.4 66.4,55.3" fill="none" fill-opacity=".25" stroke="#6cc6ee" stroke-opacity="0.92" stroke-width=".700"/>
<polygon points="66.4,55.3 68.7,55.4 68.7,59.3 66.4,59.2" fill="#6cc6ee" fill-opacity=".25" stroke="#6cc6ee" stroke-opacity="0.92" stroke-width=".700"/>
<polygon points="66.4,59.2 68.7,59.3 68.7,63.1 66.4,63.2" fill="none" fill-opacity=".25" stroke="#6cc6ee" stroke-opacity="0.92" stroke-width=".700"/>
<polygon points="66.4,63.2 68.7,63.1 68.7,67.0 66.4,67.1" fill="none" fill-opacity=".25" stroke="#6cc6ee" stroke-opacity="0.92" stroke-width=".700"/>
<polygon points="66.4,67.1 68.7,67.0 68.7,70.8 66.4,71.1" fill="none" fill-opacity=".25" stroke="#6cc6ee" stroke-opacity="0.92" stroke-width=".700"/>
<polygon points="66.4,71.1 68.7,70.8 68.7,74.7 66.4,75.0" fill="#6cc6ee" fill-opacity=".25" stroke="#6cc6ee" stroke-opacity="0.92" stroke-width=".700"/>
<polygon points="66.4,75.0 68.7,74.7 68.7,78.5 66.4,79.0" fill="#6cc6ee" fill-opacity=".25" stroke="#6cc6ee" stroke-opacity="0.92" stroke-width=".700"/>
<polygon points="68.7,24.6 70.9,25.6 70.9,29.3 68.7,28.5" fill="none" fill-opacity=".25" stroke="#6cc6ee" stroke-opacity="0.95" stroke-width=".700"/>
<polygon points="68.7,28.5 70.9,29.3 70.9,33.1 68.7,32.3" fill="none" fill-opacity=".25" stroke="#6cc6ee" stroke-opacity="0.95" stroke-width=".700"/>
<polygon points="68.7,32.3 70.9,33.1 70.9,36.8 68.7,36.2" fill="#6cc6ee" fill-opacity=".25" stroke="#6cc6ee" stroke-opacity="0.95" stroke-width=".700"/>
<polygon points="68.7,36.2 70.9,36.8 70.9,40.6 68.7,40.0" fill="none" fill-opacity=".25" stroke="#6cc6ee" stroke-opacity="0.95" stroke-width=".700"/>
<polygon points="68.7,40.0 70.9,40.6 70.9,48.1 68.7,47.7" fill="none" fill-opacity=".25" stroke="#6cc6ee" stroke-opacity="0.95" stroke-width=".700"/>
<polygon points="68.7,47.7 70.9,48.1 70.9,51.8 68.7,51.6" fill="none" fill-opacity=".25" stroke="#6cc6ee" stroke-opacity="0.95" stroke-width=".700"/>
<polygon points="68.7,51.6 70.9,51.8 70.9,55.6 68.7,55.4" fill="none" fill-opacity=".25" stroke="#6cc6ee" stroke-opacity="0.95" stroke-width=".700"/>
<polygon points="68.7,55.4 70.9,55.6 70.9,59.3 68.7,59.3" fill="#6cc6ee" fill-opacity=".25" stroke="#6cc6ee" stroke-opacity="0.95" stroke-width=".700"/>
<polygon points="68.7,59.3 70.9,59.3 70.9,63.1 68.7,63.1" fill="#6cc6ee" fill-opacity=".25" stroke="#6cc6ee" stroke-opacity="0.95" stroke-width=".700"/>
<polygon points="68.7,63.1 70.9,63.1 70.9,66.9 68.7,67.0" fill="none" fill-opacity=".25" stroke="#6cc6ee" stroke-opacity="0.95" stroke-width=".700"/>
<polygon points="68.7,67.0 70.9,66.9 70.9,74.4 68.7,74.7" fill="#6cc6ee" fill-opacity=".25" stroke="#6cc6ee" stroke-opacity="0.95" stroke-width=".700"/>
<polygon points="68.7,70.8 70.9,70.6 70.9,74.4 68.7,74.7" fill="none" fill-opacity=".25" stroke="#6cc6ee" stroke-opacity="0.95" stroke-width=".700"/>
</g>
<g filter="url(#fB1)">
<polygon points="1281.0,77.0 1272.5,75.8 1272.5,83.9 1281.0,85.5" fill="none" fill-opacity=".25" stroke="#9dd6f2" stroke-opacity="0.23" stroke-width=".700"/>
<polygon points="1272.5,3.4 1264.9,6.0 1264.9,21.3 1272.5,19.5" fill="none" fill-opacity=".25" stroke="#9dd6f2" stroke-opacity="0.24" stroke-width=".700"/>
<polygon points="1272.5,35.6 1264.9,36.6 1264.9,44.2 1272.5,43.6" fill="none" fill-opacity=".25" stroke="#9dd6f2" stroke-opacity="0.24" stroke-width=".700"/>
<polygon points="1272.5,59.7 1264.9,59.5 1264.9,67.1 1272.5,67.8" fill="none" fill-opacity=".25" stroke="#9dd6f2" stroke-opacity="0.24" stroke-width=".700"/>
<polygon points="1264.9,82.4 1258.0,81.1 1258.0,88.4 1264.9,90.1" fill="none" fill-opacity=".25" stroke="#9dd6f2" stroke-opacity="0.25" stroke-width=".700"/>
<polygon points="1258.0,30.1 1251.7,31.3 1251.7,38.2 1258.0,37.4" fill="none" fill-opacity=".25" stroke="#9dd6f2" stroke-opacity="0.26" stroke-width=".700"/>
<polygon points="1258.0,59.3 1251.7,59.1 1251.7,66.0 1258.0,66.6" fill="none" fill-opacity=".25" stroke="#9dd6f2" stroke-opacity="0.26" stroke-width=".700"/>
<polygon points="1258.0,73.9 1251.7,73.0 1251.7,80.0 1258.0,81.1" fill="none" fill-opacity=".25" stroke="#9dd6f2" stroke-opacity="0.26" stroke-width=".700"/>
<polygon points="1251.7,3.4 1246.1,5.7 1246.1,12.3 1251.7,10.4" fill="none" fill-opacity=".25" stroke="#9dd6f2" stroke-opacity="0.27" stroke-width=".700"/>
<polygon points="1251.7,10.4 1246.1,12.3 1246.1,19.0 1251.7,17.4" fill="none" fill-opacity=".25" stroke="#9dd6f2" stroke-opacity="0.27" stroke-width=".700"/>
<polygon points="1251.7,31.3 1246.1,32.3 1246.1,38.9 1251.7,38.2" fill="none" fill-opacity=".25" stroke="#9dd6f2" stroke-opacity="0.27" stroke-width=".700"/>
<polygon points="1251.7,45.2 1246.1,45.6 1246.1,52.3 1251.7,52.1" fill="none" fill-opacity=".25" stroke="#9dd6f2" stroke-opacity="0.27" stroke-width=".700"/>
<polygon points="1246.1,5.7 1240.8,7.7 1240.8,14.1 1246.1,12.3" fill="none" fill-opacity=".25" stroke="#9dd6f2" stroke-opacity="0.28" stroke-width=".700"/>
<polygon points="1246.1,19.0 1240.8,20.5 1240.8,33.2 1246.1,32.3" fill="none" fill-opacity=".25" stroke="#9dd6f2" stroke-opacity="0.28" stroke-width=".700"/>
<polygon points="1246.1,52.3 1240.8,52.4 1240.8,58.8 1246.1,58.9" fill="none" fill-opacity=".25" stroke="#9dd6f2" stroke-opacity="0.28" stroke-width=".700"/>
<polygon points="1246.1,58.9 1240.8,58.8 1240.8,65.1 1246.1,65.6" fill="none" fill-opacity=".25" stroke="#9dd6f2" stroke-opacity="0.28" stroke-width=".700"/>
<polygon points="1240.8,20.5 1236.1,21.8 1236.1,28.0 1240.8,26.9" fill="none" fill-opacity=".25" stroke="#9dd6f2" stroke-opacity="0.29" stroke-width=".700"/>
<polygon points="1240.8,33.2 1236.1,34.1 1236.1,40.2 1240.8,39.6" fill="none" fill-opacity=".25" stroke="#9dd6f2" stroke-opacity="0.29" stroke-width=".700"/>
<polygon points="1240.8,46.0 1236.1,46.3 1236.1,58.6 1240.8,58.8" fill="none" fill-opacity=".25" stroke="#9dd6f2" stroke-opacity="0.29" stroke-width=".700"/>
<polygon points="1240.8,65.1 1236.1,64.7 1236.1,70.9 1240.8,71.5" fill="none" fill-opacity=".25" stroke="#9dd6f2" stroke-opacity="0.29" stroke-width=".700"/>
<polygon points="1240.8,71.5 1236.1,70.9 1236.1,77.0 1240.8,77.9" fill="none" fill-opacity=".25" stroke="#9dd6f2" stroke-opacity="0.29" stroke-width=".700"/>
<polygon points="1236.1,15.7 1231.6,17.2 1231.6,23.1 1236.1,21.8" fill="none" fill-opacity=".25" stroke="#9dd6f2" stroke-opacity="0.30" stroke-width=".700"/>
<polygon points="1236.1,21.8 1231.6,23.1 1231.6,29.0 1236.1,28.0" fill="none" fill-opacity=".25" stroke="#9dd6f2" stroke-opacity="0.30" stroke-width=".700"/>
<polygon points="1236.1,40.2 1231.6,40.8 1231.6,52.6 1236.1,52.5" fill="none" fill-opacity=".25" stroke="#9dd6f2" stroke-opacity="0.30" stroke-width=".700"/>
<polygon points="1236.1,46.3 1231.6,46.7 1231.6,52.6 1236.1,52.5" fill="none" fill-opacity=".25" stroke="#9dd6f2" stroke-opacity="0.30" stroke-width=".700"/>
<polygon points="1236.1,52.5 1231.6,52.6 1231.6,58.5 1236.1,58.6" fill="none" fill-opacity=".25" stroke="#9dd6f2" stroke-opacity="0.30" stroke-width=".700"/>
<polygon points="1236.1,64.7 1231.6,64.4 1231.6,70.3 1236.1,70.9" fill="none" fill-opacity=".25" stroke="#9dd6f2" stroke-opacity="0.30" stroke-width=".700"/>
<polygon points="1231.6,23.1 1227.6,24.3 1227.6,29.9 1231.6,29.0" fill="#9dd6f2" fill-opacity=".25" stroke="#9dd6f2" stroke-opacity="0.32" stroke-width=".700"/>
<polygon points="1231.6,46.7 1227.6,47.0 1227.6,52.7 1231.6,52.6" fill="none" fill-opacity=".25" stroke="#9dd6f2" stroke-opacity="0.32" stroke-width=".700"/>
<polygon points="1231.6,58.5 1227.6,58.3 1227.6,69.7 1231.6,70.3" fill="#9dd6f2" fill-opacity=".25" stroke="#9dd6f2" stroke-opacity="0.32" stroke-width=".700"/>
<polygon points="1227.6,35.6 1223.8,36.3 1223.8,41.8 1227.6,41.3" fill="none" fill-opacity=".25" stroke="#9dd6f2" stroke-opacity="0.33" stroke-width=".700"/>
<polygon points="1227.6,75.4 1223.8,74.7 1223.8,80.1 1227.6,81.1" fill="none" fill-opacity=".25" stroke="#9dd6f2" stroke-opacity="0.33" stroke-width=".700"/>
<polygon points="1223.8,14.4 1220.2,15.8 1220.2,21.1 1223.8,19.9" fill="none" fill-opacity=".25" stroke="#9dd6f2" stroke-opacity="0.34" stroke-width=".700"/>
<polygon points="1223.8,30.8 1220.2,31.7 1220.2,36.9 1223.8,36.3" fill="none" fill-opacity=".25" stroke="#9dd6f2" stroke-opacity="0.34" stroke-width=".700"/>
<polygon points="1223.8,36.3 1220.2,36.9 1220.2,47.5 1223.8,47.3" fill="#9dd6f2" fill-opacity=".25" stroke="#9dd6f2" stroke-opacity="0.34" stroke-width=".700"/>
<polygon points="1223.8,47.3 1220.2,47.5 1220.2,52.8 1223.8,52.7" fill="none" fill-opacity=".25" stroke="#9dd6f2" stroke-opacity="0.34" stroke-width=".700"/>
<polygon points="1223.8,52.7 1220.2,52.8 1220.2,58.1 1223.8,58.2" fill="none" fill-opacity=".25" stroke="#9dd6f2" stroke-opacity="0.34" stroke-width=".700"/>
<polygon points="1223.8,69.2 1220.2,68.7 1220.2,74.0 1223.8,74.7" fill="none" fill-opacity=".25" stroke="#9dd6f2" stroke-opacity="0.34" stroke-width=".700"/>
<polygon points="1220.2,15.8 1216.9,17.1 1216.9,22.2 1220.2,21.1" fill="none" fill-opacity=".25" stroke="#9dd6f2" stroke-opacity="0.35" stroke-width=".700"/>
<polygon points="1220.2,26.4 1216.9,27.3 1216.9,37.5 1220.2,36.9" fill="none" fill-opacity=".25" stroke="#9dd6f2" stroke-opacity="0.35" stroke-width=".700"/>
<polygon points="1220.2,36.9 1216.9,37.5 1216.9,42.7 1220.2,42.2" fill="none" fill-opacity=".25" stroke="#9dd6f2" stroke-opacity="0.35" stroke-width=".700"/>
<polygon points="1220.2,52.8 1216.9,52.9 1216.9,58.0 1220.2,58.1" fill="none" fill-opacity=".25" stroke="#9dd6f2" stroke-opacity="0.35" stroke-width=".700"/>
<polygon points="1220.2,58.1 1216.9,58.0 1216.9,63.1 1220.2,63.4" fill="none" fill-opacity=".25" stroke="#9dd6f2" stroke-opacity="0.35" stroke-width=".700"/>
<polygon points="1216.9,17.1 1213.9,18.3 1213.9,23.2 1216.9,22.2" fill="none" fill-opacity=".25" stroke="#9dd6f2" stroke-opacity="0.36" stroke-width=".700"/>
<polygon points="1216.9,22.2 1213.9,23.2 1213.9,28.2 1216.9,27.3" fill="none" fill-opacity=".25" stroke="#9dd6f2" stroke-opacity="0.36" stroke-width=".700"/>
<polygon points="1216.9,32.4 1213.9,33.1 1213.9,38.1 1216.9,37.5" fill="none" fill-opacity=".25" stroke="#9dd6f2" stroke-opacity="0.36" stroke-width=".700"/>
<polygon points="1216.9,42.7 1213.9,43.0 1213.9,48.0 1216.9,47.8" fill="#9dd6f2" fill-opacity=".25" stroke="#9dd6f2" stroke-opacity="0.36" stroke-width=".700"/>
<polygon points="1216.9,52.9 1213.9,53.0 1213.9,57.9 1216.9,58.0" fill="none" fill-opacity=".25" stroke="#9dd6f2" stroke-opacity="0.36" stroke-width=".700"/>
<polygon points="1216.9,58.0 1213.9,57.9 1213.9,62.9 1216.9,63.1" fill="#9dd6f2" fill-opacity=".25" stroke="#9dd6f2" stroke-opacity="0.36" stroke-width=".700"/>
<polygon points="1216.9,63.1 1213.9,62.9 1213.9,67.8 1216.9,68.2" fill="#9dd6f2" fill-opacity=".25" stroke="#9dd6f2" stroke-opacity="0.36" stroke-width=".700"/>
<polygon points="1216.9,73.4 1213.9,72.8 1213.9,77.7 1216.9,78.5" fill="#9dd6f2" fill-opacity=".25" stroke="#9dd6f2" stroke-opacity="0.36" stroke-width=".700"/>
<polygon points="1213.9,23.2 1211.0,24.2 1211.0,29.0 1213.9,28.2" fill="none" fill-opacity=".25" stroke="#9dd6f2" stroke-opacity="0.37" stroke-width=".700"/>
<polygon points="1213.9,43.0 1211.0,43.4 1211.0,48.2 1213.9,48.0" fill="#9dd6f2" fill-opacity=".25" stroke="#9dd6f2" stroke-opacity="0.37" stroke-width=".700"/>
<polygon points="1213.9,48.0 1211.0,48.2 1211.0,53.0 1213.9,53.0" fill="none" fill-opacity=".25" stroke="#9dd6f2" stroke-opacity="0.37" stroke-width=".700"/>
<polygon points="1213.9,53.0 1211.0,53.0 1211.0,57.8 1213.9,57.9" fill="none" fill-opacity=".25" stroke="#9dd6f2" stroke-opacity="0.37" stroke-width=".700"/>
<polygon points="1213.9,62.9 1211.0,62.6 1211.0,67.4 1213.9,67.8" fill="none" fill-opacity=".25" stroke="#9dd6f2" stroke-opacity="0.37" stroke-width=".700"/>
<polygon points="1213.9,67.8 1211.0,67.4 1211.0,72.2 1213.9,72.8" fill="none" fill-opacity=".25" stroke="#9dd6f2" stroke-opacity="0.37" stroke-width=".700"/>
<polygon points="1213.9,72.8 1211.0,72.2 1211.0,81.8 1213.9,82.7" fill="none" fill-opacity=".25" stroke="#9dd6f2" stroke-opacity="0.37" stroke-width=".700"/>
<polygon points="1211.0,19.4 1208.3,20.5 1208.3,25.1 1211.0,24.2" fill="none" fill-opacity=".25" stroke="#9dd6f2" stroke-opacity="0.38" stroke-width=".700"/>
<polygon points="1211.0,29.0 1208.3,29.8 1208.3,34.4 1211.0,33.8" fill="none" fill-opacity=".25" stroke="#9dd6f2" stroke-opacity="0.38" stroke-width=".700"/>
<polygon points="1211.0,43.4 1208.3,43.8 1208.3,48.4 1211.0,48.2" fill="none" fill-opacity=".25" stroke="#9dd6f2" stroke-opacity="0.38" stroke-width=".700"/>
<polygon points="1211.0,57.8 1208.3,57.7 1208.3,62.4 1211.0,62.6" fill="none" fill-opacity=".25" stroke="#9dd6f2" stroke-opacity="0.38" stroke-width=".700"/>
<polygon points="1208.3,20.5 1205.7,21.5 1205.7,26.0 1208.3,25.1" fill="none" fill-opacity=".25" stroke="#9dd6f2" stroke-opacity="0.39" stroke-width=".700"/>
<polygon points="1208.3,34.4 1205.7,35.0 1205.7,39.6 1208.3,39.1" fill="none" fill-opacity=".25" stroke="#9dd6f2" stroke-opacity="0.39" stroke-width=".700"/>
<polygon points="1208.3,39.1 1205.7,39.6 1205.7,44.1 1208.3,43.8" fill="none" fill-opacity=".25" stroke="#9dd6f2" stroke-opacity="0.39" stroke-width=".700"/>
<polygon points="1208.3,43.8 1205.7,44.1 1205.7,53.1 1208.3,53.1" fill="#9dd6f2" fill-opacity=".25" stroke="#9dd6f2" stroke-opacity="0.39" stroke-width=".700"/>
<polygon points="1208.3,53.1 1205.7,53.1 1205.7,57.7 1208.3,57.7" fill="none" fill-opacity=".25" stroke="#9dd6f2" stroke-opacity="0.39" stroke-width=".700"/>
<polygon points="1208.3,57.7 1205.7,57.7 1205.7,62.2 1208.3,62.4" fill="none" fill-opacity=".25" stroke="#9dd6f2" stroke-opacity="0.39" stroke-width=".700"/>
<polygon points="1208.3,71.7 1205.7,71.2 1205.7,80.3 1208.3,81.0" fill="none" fill-opacity=".25" stroke="#9dd6f2" stroke-opacity="0.39" stroke-width=".700"/>
<polygon points="1205.7,26.0 1203.3,26.8 1203.3,31.2 1205.7,30.5" fill="none" fill-opacity=".25" stroke="#9dd6f2" stroke-opacity="0.40" stroke-width=".700"/>
<polygon points="1205.7,30.5 1203.3,31.2 1203.3,35.6 1205.7,35.0" fill="none" fill-opacity=".25" stroke="#9dd6f2" stroke-opacity="0.40" stroke-width=".700"/>
<polygon points="1205.7,35.0 1203.3,35.6 1203.3,44.4 1205.7,44.1" fill="none" fill-opacity=".25" stroke="#9dd6f2" stroke-opacity="0.40" stroke-width=".700"/>
<polygon points="1205.7,39.6 1203.3,40.0 1203.3,44.4 1205.7,44.1" fill="none" fill-opacity=".25" stroke="#9dd6f2" stroke-opacity="0.40" stroke-width=".700"/>
<polygon points="1205.7,48.6 1203.3,48.8 1203.3,57.6 1205.7,57.7" fill="none" fill-opacity=".25" stroke="#9dd6f2" stroke-opacity="0.40" stroke-width=".700"/>
<polygon points="1205.7,53.1 1203.3,53.2 1203.3,57.6 1205.7,57.7" fill="#9dd6f2" fill-opacity=".25" stroke="#9dd6f2" stroke-opacity="0.40" stroke-width=".700"/>
<polygon points="1205.7,57.7 1203.3,57.6 1203.3,62.0 1205.7,62.2" fill="none" fill-opacity=".25" stroke="#9dd6f2" stroke-opacity="0.40" stroke-width=".700"/>
<polygon points="1205.7,62.2 1203.3,62.0 1203.3,70.8 1205.7,71.2" fill="none" fill-opacity=".25" stroke="#9dd6f2" stroke-opacity="0.40" stroke-width=".700"/>
<polygon points="1205.7,66.7 1203.3,66.4 1203.3,75.2 1205.7,75.8" fill="none" fill-opacity=".25" stroke="#9dd6f2" stroke-opacity="0.40" stroke-width=".700"/>
<polygon points="1205.7,71.2 1203.3,70.8 1203.3,75.2 1205.7,75.8" fill="#9dd6f2" fill-opacity=".25" stroke="#9dd6f2" stroke-opacity="0.40" stroke-width=".700"/>
<polygon points="1203.3,22.4 1201.0,23.3 1201.0,27.6 1203.3,26.8" fill="none" fill-opacity=".25" stroke="#9dd6f2" stroke-opacity="0.41" stroke-width=".700"/>
<polygon points="1203.3,31.2 1201.0,31.9 1201.0,36.1 1203.3,35.6" fill="#9dd6f2" fill-opacity=".25" stroke="#9dd6f2" stroke-opacity="0.41" stroke-width=".700"/>
<polygon points="1203.3,35.6 1201.0,36.1 1201.0,44.7 1203.3,44.4" fill="none" fill-opacity=".25" stroke="#9dd6f2" stroke-opacity="0.41" stroke-width=".700"/>
<polygon points="1203.3,40.0 1201.0,40.4 1201.0,44.7 1203.3,44.4" fill="#9dd6f2" fill-opacity=".25" stroke="#9dd6f2" stroke-opacity="0.41" stroke-width=".700"/>
<polygon points="1203.3,44.4 1201.0,44.7 1201.0,53.2 1203.3,53.2" fill="#9dd6f2" fill-opacity=".25" stroke="#9dd6f2" stroke-opacity="0.41" stroke-width=".700"/>
<polygon points="1203.3,48.8 1201.0,49.0 1201.0,53.2 1203.3,53.2" fill="#9dd6f2" fill-opacity=".25" stroke="#9dd6f2" stroke-opacity="0.41" stroke-width=".700"/>
<polygon points="1203.3,53.2 1201.0,53.2 1201.0,57.5 1203.3,57.6" fill="none" fill-opacity=".25" stroke="#9dd6f2" stroke-opacity="0.41" stroke-width=".700"/>
<polygon points="1203.3,57.6 1201.0,57.5 1201.0,61.8 1203.3,62.0" fill="#9dd6f2" fill-opacity=".25" stroke="#9dd6f2" stroke-opacity="0.41" stroke-width=".700"/>
<polygon points="1203.3,62.0 1201.0,61.8 1201.0,66.1 1203.3,66.4" fill="none" fill-opacity=".25" stroke="#9dd6f2" stroke-opacity="0.41" stroke-width=".700"/>
<polygon points="1203.3,66.4 1201.0,66.1 1201.0,70.3 1203.3,70.8" fill="none" fill-opacity=".25" stroke="#9dd6f2" stroke-opacity="0.41" stroke-width=".700"/>
<polygon points="1203.3,70.8 1201.0,70.3 1201.0,74.6 1203.3,75.2" fill="none" fill-opacity=".25" stroke="#9dd6f2" stroke-opacity="0.41" stroke-width=".700"/>
<polygon points="1201.0,23.3 1198.9,24.1 1198.9,28.3 1201.0,27.6" fill="#9dd6f2" fill-opacity=".25" stroke="#9dd6f2" stroke-opacity="0.42" stroke-width=".700"/>
<polygon points="1201.0,27.6 1198.9,28.3 1198.9,32.5 1201.0,31.9" fill="none" fill-opacity=".25" stroke="#9dd6f2" stroke-opacity="0.42" stroke-width=".700"/>
<polygon points="1201.0,36.1 1198.9,36.6 1198.9,45.0 1201.0,44.7" fill="#9dd6f2" fill-opacity=".25" stroke="#9dd6f2" stroke-opacity="0.42" stroke-width=".700"/>
<polygon points="1201.0,40.4 1198.9,40.8 1198.9,49.1 1201.0,49.0" fill="none" fill-opacity=".25" stroke="#9dd6f2" stroke-opacity="0.42" stroke-width=".700"/>
<polygon points="1201.0,44.7 1198.9,45.0 1198.9,49.1 1201.0,49.0" fill="none" fill-opacity=".25" stroke="#9dd6f2" stroke-opacity="0.42" stroke-width=".700"/>
<polygon points="1201.0,49.0 1198.9,49.1 1198.9,57.4 1201.0,57.5" fill="none" fill-opacity=".25" stroke="#9dd6f2" stroke-opacity="0.42" stroke-width=".700"/>
<polygon points="1201.0,53.2 1198.9,53.3 1198.9,57.4 1201.0,57.5" fill="none" fill-opacity=".25" stroke="#9dd6f2" stroke-opacity="0.42" stroke-width=".700"/>
<polygon points="1201.0,57.5 1198.9,57.4 1198.9,61.6 1201.0,61.8" fill="none" fill-opacity=".25" stroke="#9dd6f2" stroke-opacity="0.42" stroke-width=".700"/>
<polygon points="1201.0,61.8 1198.9,61.6 1198.9,65.8 1201.0,66.1" fill="#9dd6f2" fill-opacity=".25" stroke="#9dd6f2" stroke-opacity="0.42" stroke-width=".700"/>
<polygon points="1201.0,66.1 1198.9,65.8 1198.9,69.9 1201.0,70.3" fill="#9dd6f2" fill-opacity=".25" stroke="#9dd6f2" stroke-opacity="0.42" stroke-width=".700"/>
<polygon points="1201.0,70.3 1198.9,69.9 1198.9,74.1 1201.0,74.6" fill="none" fill-opacity=".25" stroke="#9dd6f2" stroke-opacity="0.42" stroke-width=".700"/>
</g>
<g fill="#c9f1ec" filter="url(#fB2)" opacity=".85">
<rect x="1076.500" y="24" width="22.500" height="80" fill-opacity=".22"/>
<rect x="1076.5" y="24.0" width="17.7" height="1.6" fill-opacity="0.29"/>
<rect x="1096.6" y="24.0" width="2.4" height="1.6" fill-opacity="0.32"/>
<rect x="1076.5" y="27.2" width="20.0" height="1.6" fill-opacity="0.68"/>
<rect x="1097.4" y="27.2" width="1.6" height="1.6" fill-opacity="0.71"/>
<rect x="1076.5" y="30.4" width="11.1" height="1.6" fill-opacity="0.35"/>
<rect x="1090.1" y="30.4" width="8.9" height="1.6" fill-opacity="0.42"/>
<rect x="1076.5" y="33.6" width="13.8" height="1.6" fill-opacity="0.40"/>
<rect x="1092.4" y="33.6" width="6.6" height="1.6" fill-opacity="0.65"/>
<rect x="1076.5" y="36.8" width="18.8" height="1.6" fill-opacity="0.74"/>
<rect x="1097.5" y="36.8" width="1.5" height="1.6" fill-opacity="0.71"/>
<rect x="1076.5" y="40.0" width="12.3" height="1.6" fill-opacity="0.60"/>
<rect x="1091.2" y="40.0" width="7.8" height="1.6" fill-opacity="0.45"/>
<rect x="1076.5" y="43.2" width="16.8" height="1.6" fill-opacity="0.39"/>
<rect x="1094.9" y="43.2" width="4.1" height="1.6" fill-opacity="0.56"/>
<rect x="1076.5" y="46.4" width="9.5" height="1.6" fill-opacity="0.32"/>
<rect x="1087.0" y="46.4" width="7.0" height="1.6" fill-opacity="0.60"/>
<rect x="1096.1" y="46.4" width="2.9" height="1.6" fill-opacity="0.36"/>
<rect x="1076.5" y="49.6" width="13.3" height="1.6" fill-opacity="0.69"/>
<rect x="1090.6" y="49.6" width="8.4" height="1.6" fill-opacity="0.59"/>
<rect x="1076.5" y="52.8" width="7.1" height="1.6" fill-opacity="0.55"/>
<rect x="1084.5" y="52.8" width="14.5" height="1.6" fill-opacity="0.28"/>
<rect x="1076.5" y="56.0" width="11.4" height="1.6" fill-opacity="0.63"/>
<rect x="1089.3" y="56.0" width="9.7" height="1.6" fill-opacity="0.61"/>
<rect x="1076.5" y="59.2" width="18.0" height="1.6" fill-opacity="0.37"/>
<rect x="1096.7" y="59.2" width="2.3" height="1.6" fill-opacity="0.52"/>
<rect x="1076.5" y="62.4" width="6.6" height="1.6" fill-opacity="0.70"/>
<rect x="1083.7" y="62.4" width="7.7" height="1.6" fill-opacity="0.66"/>
<rect x="1093.6" y="62.4" width="5.4" height="1.6" fill-opacity="0.34"/>
<rect x="1076.5" y="65.6" width="19.9" height="1.6" fill-opacity="0.60"/>
<rect x="1076.5" y="68.8" width="12.0" height="1.6" fill-opacity="0.46"/>
<rect x="1090.9" y="68.8" width="8.1" height="1.6" fill-opacity="0.57"/>
<rect x="1076.5" y="72.0" width="5.7" height="1.6" fill-opacity="0.47"/>
<rect x="1083.1" y="72.0" width="10.0" height="1.6" fill-opacity="0.56"/>
<rect x="1094.1" y="72.0" width="4.9" height="1.6" fill-opacity="0.71"/>
<rect x="1076.5" y="75.2" width="20.0" height="1.6" fill-opacity="0.69"/>
<rect x="1076.5" y="78.4" width="14.9" height="1.6" fill-opacity="0.28"/>
<rect x="1092.5" y="78.4" width="6.5" height="1.6" fill-opacity="0.64"/>
<rect x="1076.5" y="81.6" width="16.6" height="1.6" fill-opacity="0.52"/>
<rect x="1094.6" y="81.6" width="4.4" height="1.6" fill-opacity="0.67"/>
<rect x="1076.5" y="84.8" width="9.9" height="1.6" fill-opacity="0.74"/>
<rect x="1088.5" y="84.8" width="10.5" height="1.6" fill-opacity="0.49"/>
<rect x="1076.5" y="88.0" width="17.8" height="1.6" fill-opacity="0.31"/>
<rect x="1096.6" y="88.0" width="2.4" height="1.6" fill-opacity="0.67"/>
<rect x="1076.5" y="91.2" width="10.8" height="1.6" fill-opacity="0.45"/>
<rect x="1088.7" y="91.2" width="10.3" height="1.6" fill-opacity="0.43"/>
<rect x="1076.5" y="94.4" width="19.7" height="1.6" fill-opacity="0.32"/>
<rect x="1097.5" y="94.4" width="1.5" height="1.6" fill-opacity="0.50"/>
<rect x="1076.5" y="97.6" width="18.4" height="1.6" fill-opacity="0.69"/>
<rect x="1096.9" y="97.6" width="2.1" height="1.6" fill-opacity="0.59"/>
<rect x="1076.5" y="100.8" width="14.1" height="1.6" fill-opacity="0.61"/>
<rect x="1091.7" y="100.8" width="7.3" height="1.6" fill-opacity="0.46"/>
<rect x="1100.800" y="37" width="15.600" height="66" fill-opacity=".2"/>
<rect x="1100.8" y="37.0" width="13.7" height="1.6" fill-opacity="0.27"/>
<rect x="1100.8" y="40.4" width="10.3" height="1.6" fill-opacity="0.57"/>
<rect x="1113.5" y="40.4" width="2.9" height="1.6" fill-opacity="0.63"/>
<rect x="1100.8" y="43.8" width="10.0" height="1.6" fill-opacity="0.51"/>
<rect x="1112.7" y="43.8" width="3.7" height="1.6" fill-opacity="0.31"/>
<rect x="1100.8" y="47.2" width="5.8" height="1.6" fill-opacity="0.62"/>
<rect x="1108.6" y="47.2" width="6.2" height="1.6" fill-opacity="0.57"/>
<rect x="1100.8" y="50.6" width="12.1" height="1.6" fill-opacity="0.61"/>
<rect x="1113.7" y="50.6" width="2.7" height="1.6" fill-opacity="0.45"/>
<rect x="1100.8" y="54.0" width="12.9" height="1.6" fill-opacity="0.68"/>
<rect x="1114.5" y="54.0" width="1.9" height="1.6" fill-opacity="0.47"/>
<rect x="1100.8" y="57.4" width="8.7" height="1.6" fill-opacity="0.43"/>
<rect x="1111.8" y="57.4" width="4.6" height="1.6" fill-opacity="0.46"/>
<rect x="1100.8" y="60.8" width="10.0" height="1.6" fill-opacity="0.42"/>
<rect x="1111.9" y="60.8" width="4.5" height="1.6" fill-opacity="0.44"/>
<rect x="1100.8" y="64.2" width="11.9" height="1.6" fill-opacity="0.65"/>
<rect x="1113.7" y="64.2" width="2.7" height="1.6" fill-opacity="0.50"/>
<rect x="1100.8" y="67.6" width="12.8" height="1.6" fill-opacity="0.58"/>
<rect x="1100.8" y="71.0" width="5.4" height="1.6" fill-opacity="0.26"/>
<rect x="1108.1" y="71.0" width="8.3" height="1.6" fill-opacity="0.56"/>
<rect x="1100.8" y="74.4" width="13.7" height="1.6" fill-opacity="0.66"/>
<rect x="1100.8" y="77.8" width="10.2" height="1.6" fill-opacity="0.34"/>
<rect x="1113.0" y="77.8" width="3.4" height="1.6" fill-opacity="0.48"/>
<rect x="1100.8" y="81.2" width="10.3" height="1.6" fill-opacity="0.54"/>
<rect x="1111.7" y="81.2" width="4.7" height="1.6" fill-opacity="0.44"/>
<rect x="1100.8" y="84.6" width="5.5" height="1.6" fill-opacity="0.37"/>
<rect x="1107.8" y="84.6" width="8.0" height="1.6" fill-opacity="0.42"/>
<rect x="1100.8" y="88.0" width="7.5" height="1.6" fill-opacity="0.68"/>
<rect x="1108.9" y="88.0" width="6.8" height="1.6" fill-opacity="0.44"/>
<rect x="1100.8" y="91.4" width="12.2" height="1.6" fill-opacity="0.29"/>
<rect x="1113.8" y="91.4" width="2.6" height="1.6" fill-opacity="0.52"/>
<rect x="1100.8" y="94.8" width="7.4" height="1.6" fill-opacity="0.41"/>
<rect x="1109.6" y="94.8" width="5.3" height="1.6" fill-opacity="0.59"/>
<rect x="1100.8" y="98.2" width="13.7" height="1.6" fill-opacity="0.69"/>
<rect x="1100.8" y="101.6" width="8.1" height="1.6" fill-opacity="0.54"/>
<rect x="1110.0" y="101.6" width="6.4" height="1.6" fill-opacity="0.67"/>
<rect x="1054.700" y="63" width="18.700" height="40" fill-opacity=".28"/>
<rect x="1054.7" y="63.0" width="12.0" height="1.4" fill-opacity="0.26"/>
<rect x="1067.3" y="63.0" width="6.1" height="1.4" fill-opacity="0.54"/>
<rect x="1054.7" y="66.6" width="14.9" height="1.4" fill-opacity="0.52"/>
<rect x="1071.7" y="66.6" width="1.7" height="1.4" fill-opacity="0.19"/>
<rect x="1054.7" y="70.2" width="16.2" height="1.4" fill-opacity="0.21"/>
<rect x="1054.7" y="73.8" width="16.8" height="1.4" fill-opacity="0.38"/>
<rect x="1054.7" y="77.4" width="12.2" height="1.4" fill-opacity="0.44"/>
<rect x="1067.9" y="77.4" width="5.5" height="1.4" fill-opacity="0.41"/>
<rect x="1054.7" y="81.0" width="5.6" height="1.4" fill-opacity="0.32"/>
<rect x="1061.0" y="81.0" width="8.2" height="1.4" fill-opacity="0.21"/>
<rect x="1070.6" y="81.0" width="2.8" height="1.4" fill-opacity="0.22"/>
<rect x="1054.7" y="84.6" width="12.7" height="1.4" fill-opacity="0.36"/>
<rect x="1069.8" y="84.6" width="3.6" height="1.4" fill-opacity="0.45"/>
<rect x="1054.7" y="88.2" width="12.5" height="1.4" fill-opacity="0.33"/>
<rect x="1067.9" y="88.2" width="5.5" height="1.4" fill-opacity="0.31"/>
<rect x="1054.7" y="91.8" width="16.6" height="1.4" fill-opacity="0.23"/>
<rect x="1054.7" y="95.4" width="16.4" height="1.4" fill-opacity="0.40"/>
<rect x="1054.7" y="99.0" width="10.6" height="1.4" fill-opacity="0.21"/>
<rect x="1066.4" y="99.0" width="5.9" height="1.4" fill-opacity="0.27"/>
<rect x="1054.7" y="102.6" width="15.2" height="1.4" fill-opacity="0.45"/>
<rect x="1070.6" y="102.6" width="2.8" height="1.4" fill-opacity="0.28"/>
<rect x="1015.600" y="72.500" width="20.400" height="28" fill-opacity=".2"/>
<rect x="1015.6" y="72.5" width="7.7" height="1.3" fill-opacity="0.46"/>
<rect x="1025.4" y="72.5" width="10.6" height="1.3" fill-opacity="0.47"/>
<rect x="1015.6" y="75.9" width="5.8" height="1.3" fill-opacity="0.52"/>
<rect x="1022.5" y="75.9" width="13.5" height="1.3" fill-opacity="0.22"/>
<rect x="1015.6" y="79.3" width="8.2" height="1.3" fill-opacity="0.52"/>
<rect x="1024.7" y="79.3" width="11.3" height="1.3" fill-opacity="0.52"/>
<rect x="1015.6" y="82.7" width="15.2" height="1.3" fill-opacity="0.26"/>
<rect x="1032.6" y="82.7" width="3.4" height="1.3" fill-opacity="0.38"/>
<rect x="1015.6" y="86.1" width="6.6" height="1.3" fill-opacity="0.51"/>
<rect x="1022.9" y="86.1" width="7.2" height="1.3" fill-opacity="0.32"/>
<rect x="1031.7" y="86.1" width="4.3" height="1.3" fill-opacity="0.37"/>
<rect x="1015.6" y="89.5" width="9.4" height="1.3" fill-opacity="0.22"/>
<rect x="1025.6" y="89.5" width="6.9" height="1.3" fill-opacity="0.21"/>
<rect x="1033.7" y="89.5" width="2.3" height="1.3" fill-opacity="0.21"/>
<rect x="1015.6" y="92.9" width="7.1" height="1.3" fill-opacity="0.46"/>
<rect x="1023.4" y="92.9" width="12.6" height="1.3" fill-opacity="0.52"/>
<rect x="1015.6" y="96.3" width="10.8" height="1.3" fill-opacity="0.54"/>
<rect x="1027.1" y="96.3" width="8.9" height="1.3" fill-opacity="0.41"/>
<rect x="1015.6" y="99.7" width="17.4" height="1.3" fill-opacity="0.50"/>
<rect x="1034.8" y="99.7" width="1.2" height="1.3" fill-opacity="0.54"/>
<rect x="1036" y="92" width="38" height="9" fill-opacity=".4"/>
<rect x="1010" y="99" width="62" height="2.500" fill-opacity=".5"/>
<polygon points="1119.500,61.500 1200,41 1200,103 1119.500,103" fill-opacity=".22"/>
<rect x="1119.5" y="61.5" width="1.5" height="41.5" fill-opacity="0.5"/>
<rect x="1122.9" y="60.6" width="1.5" height="42.4" fill-opacity="0.5"/>
<rect x="1126.3" y="59.8" width="1.5" height="43.2" fill-opacity="0.5"/>
<rect x="1129.7" y="58.9" width="1.5" height="44.1" fill-opacity="0.5"/>
<rect x="1133.1" y="58.0" width="1.5" height="45.0" fill-opacity="0.5"/>
<rect x="1136.5" y="57.2" width="1.5" height="45.8" fill-opacity="0.5"/>
<rect x="1139.9" y="56.3" width="1.5" height="46.7" fill-opacity="0.5"/>
<rect x="1143.3" y="55.4" width="1.5" height="47.6" fill-opacity="0.5"/>
<rect x="1146.7" y="54.6" width="1.5" height="48.4" fill-opacity="0.5"/>
<rect x="1150.1" y="53.7" width="1.5" height="49.3" fill-opacity="0.5"/>
<rect x="1153.5" y="52.8" width="1.5" height="50.2" fill-opacity="0.5"/>
<rect x="1156.9" y="52.0" width="1.5" height="51.0" fill-opacity="0.5"/>
<rect x="1160.3" y="51.1" width="1.5" height="51.9" fill-opacity="0.5"/>
<rect x="1163.7" y="50.2" width="1.5" height="52.8" fill-opacity="0.5"/>
<rect x="1167.1" y="49.4" width="1.5" height="53.6" fill-opacity="0.5"/>
<rect x="1170.5" y="48.5" width="1.5" height="54.5" fill-opacity="0.5"/>
<rect x="1173.9" y="47.6" width="1.5" height="55.4" fill-opacity="0.5"/>
<rect x="1177.3" y="46.8" width="1.5" height="56.2" fill-opacity="0.5"/>
<rect x="1180.7" y="45.9" width="1.5" height="57.1" fill-opacity="0.5"/>
<rect x="1184.1" y="45.0" width="1.5" height="58.0" fill-opacity="0.5"/>
<rect x="1187.5" y="44.2" width="1.5" height="58.8" fill-opacity="0.5"/>
<rect x="1190.9" y="43.3" width="1.5" height="59.7" fill-opacity="0.5"/>
<rect x="1194.3" y="42.4" width="1.5" height="60.6" fill-opacity="0.5"/>
<rect x="1197.7" y="41.6" width="1.5" height="61.4" fill-opacity="0.5"/>
<rect x="1119.500" y="88" width="30" height="15" fill-opacity=".45"/>
</g>
</svg>
<div class="title">技术优势</div>
<div class="h m" style="left:75.5px">建筑IOT组网设备</div>
<div class="h l" style="left:536px">建筑设备管理无代码搭建平台</div>
<div class="h m" style="left:907.5px">终端应用</div>


<svg width="1280" height="720" viewBox="0 0 1280 720" fill="none">
 <defs><filter id="fGlow" x="-5%" y="-10%" width="110%" height="120%"><feGaussianBlur stdDeviation="1.600"/></filter></defs>
 <g stroke="#9fe9dc" stroke-width="3" filter="url(#fGlow)" opacity=".55">
  <rect x="69.500" y="144.500" width="430" height="85" rx="12.500"/>
  <rect x="532.500" y="144.500" width="342" height="85" rx="12.500"/>
  <rect x="907.500" y="144.500" width="252" height="85" rx="12.500"/>
 </g>
 <g stroke="#2c9474" stroke-width="1" stroke-dasharray="3 1.100" fill="#fff">
  <rect x="69.500" y="144.500" width="430" height="85" rx="12.500"/>
  <rect x="532.500" y="144.500" width="342" height="85" rx="12.500"/>
  <rect x="907.500" y="144.500" width="252" height="85" rx="12.500"/>
 </g>
</svg>
<div class="it" style="left:124px">自研产品<br>高品质、低成本</div>
<div class="it" style="left:209px">SKU少<br>应用场景广</div>
<div class="it" style="left:281px">即插即用<br>建筑改造方便</div>
<div class="it" style="left:365px">自研通讯协议<br>易组网、抗干扰</div>
<div class="it" style="left:450px">信号覆盖广<br>云边计算接盒</div>
<div class="it" style="left:582px">千万级别设备<br>IOT连接平台</div>
<div class="it" style="left:658px">国家电网<br>安全认证</div>
<div class="it" style="left:734px">建筑设备管理<br>无代码搭建平台</div>
<div class="it" style="left:825px">场景化<br>建筑节能AI模型</div>
<div class="it" style="left:950px">数字孪生<br>全场景闭环</div>
<div class="it" style="left:1022px">百万级用户<br>体验测试</div>
<div class="it" style="left:1106px">节能率大于20%<br>投资回收小于1年</div>

<div class="tag" style="left:112px;width:76px">外协硬件</div>
<div class="tag" style="left:263px;width:75px">自研硬件</div>
<div class="tag" style="left:408px;width:76px"><i style="font-size:15px">IOT</i> 组件</div>
<div class="tag" style="left:564px;width:46px">网关</div>
<div class="tag" style="left:661px;width:103px"><i>PAAS</i> 云集群</div>
<div class="tag" style="left:783px;width:74px"><i>SAAS</i> 云</div>
<div class="tag" style="left:930px;width:75px">应用程序</div>
<div class="tag" style="left:1061px;width:75px">市场客户</div>
<!-- feature icons -->
<svg width="1280" height="720" viewBox="0 0 1280 720" fill="none" stroke="#2fa584" stroke-width="1.5" stroke-linecap="round" stroke-linejoin="round">
 <!-- 1 book + star + magnifier -->
 <g>
  <path d="M133.5 176V161a2.6 2.6 0 0 0-2.6-2.6H115a2.8 2.8 0 0 0-2.8 2.8v24.6"/>
  <path d="M124.5 189.4H115.6a3.4 3.4 0 0 1 0-6.8h9"/>
  <path d="M116 186h8"/>
  <path d="M123 162.2l1.7 3.5 3.8.5-2.8 2.7.7 3.8-3.4-1.8-3.4 1.8.7-3.8-2.8-2.7 3.8-.5z" stroke-width="1.3"/>
  <circle cx="131.3" cy="181.8" r="5.6"/>
  <path d="M135.6 186l3.6 3.4" stroke-width="1.3"/>
 </g>
 <!-- 2 four squares -->
 <g stroke-width="1.6">
  <rect x="196" y="159.3" width="10.4" height="10.4" rx="1"/>
  <rect x="210" y="159.3" width="10.4" height="10.4" rx="1"/>
  <rect x="196" y="173.3" width="10.4" height="10.4" rx="1"/>
  <rect x="210" y="173.3" width="10.4" height="10.4" rx="1"/>
 </g>
 <!-- 3 route -->
 <g stroke-width="2.4">
  <circle cx="268.6" cy="162.2" r="2.9" stroke-width="2"/>
  <path d="M272 162.5H284a4.6 4.6 0 0 1 0 9.200H273.500a4.700 4.700 0 0 0 0 9.400H290"/>
  <path d="M286.800 177.300l3.800 3.800-3.800 3.800" stroke-width="2.2"/>
 </g>
 <!-- 4 rainbow -->
 <g stroke-width="1.1">
  <path d="M346.500 182.500a18 18 0 0 1 36 0"/>
  <path d="M351.500 182.500a13 13 0 0 1 26 0"/>
  <path d="M356.500 182.500a8 8 0 0 1 16 0" stroke-width="1.6"/>
  <path d="M361 182.500a3.500 3.500 0 0 1 7 0z" fill="#2fa584" stroke-width=".8"/>
  <path d="M345.500 185H384"/>
 </g>
 <!-- 5 antenna -->
 <g stroke-width="1.6">
  <path d="M440.500 162.500a15 15 0 0 0 0 20.500"/>
  <path d="M460.500 162.500a15 15 0 0 1 0 20.500"/>
  <path d="M445.600 167a8.500 8.500 0 0 0 0 11.500"/>
  <path d="M455.400 167a8.500 8.500 0 0 1 0 11.500"/>
  <circle cx="450.500" cy="172" r="1.100" fill="#2fa584"/>
  <path d="M450.500 175.500V186.500M447.800 186.800h5.400" stroke-width="1.400"/>
 </g>
 <!-- 6 server -->
 <g stroke-width="1.9">
  <rect x="567.800" y="160.600" width="26" height="22.800" rx="2.400"/>
  <path d="M568 166.300h25.600M568 172h25.600M568 177.700h25.600" stroke-width="1.600"/>
  <path d="M572 163.500h1.500M576.500 163.500h9M572 169.200h1.500M576.500 169.200h9M572 174.900h1.500M576.500 174.900h9M572 180.600h1.500M576.500 180.600h9" stroke-width="1.300"/>
 </g>
 <!-- 7 state grid -->
 <g>
  <circle cx="658" cy="171.800" r="13.700" stroke-width="2.400" stroke-dasharray="1.400 1.100" stroke-linecap="butt" stroke="#45ad8e"/>
  <circle cx="658" cy="171.800" r="10.500" fill="#23a07f" stroke="none"/>
  <g stroke="#fff" stroke-width="1" fill="none">
   <path d="M651.500 163.800c5 4 7 10 5.500 17.500"/>
   <path d="M648 174.500c6-1 13-4.500 17.500-10"/>
   <path d="M652 180c6 0 12-2.500 16-7"/>
   <path d="M660.500 161.600c-3 5-3.500 13 .5 20.500"/>
  </g>
 </g>
 <!-- 8 coins -->
 <g stroke-width="1.400">
  <ellipse cx="743.300" cy="165.500" rx="8.800" ry="3.800"/>
  <path d="M734.500 165.500v15.500c0 .8.400 1.500 1.200 2.100M752.100 165.500v15.500c0 2.100-3.900 3.800-8.800 3.800-1.400 0-2.700-.1-3.900-.4"/>
  <path d="M752.100 170.600c0 2.100-3.900 3.800-8.800 3.800s-8.800-1.700-8.800-3.800M752.100 175.800c0 2.100-3.900 3.800-8.800 3.800-.8 0-1.500 0-2.200-.1"/>
  <ellipse cx="730" cy="175.500" rx="8.800" ry="3.800"/>
  <path d="M721.200 175.500v9.500c0 2.100 3.900 3.800 8.800 3.800s8.800-1.700 8.800-3.800v-9.500"/>
  <path d="M738.800 180.300c0 2.100-3.900 3.800-8.800 3.800s-8.800-1.700-8.800-3.800"/>
 </g>
 <!-- 9 layers -->
 <g stroke-width="1.900">
  <path d="M825.600 161.200l12.400 5.600-12.400 5.600-12.400-5.600z"/>
  <path d="M813.200 171.800l12.400 5.600 12.400-5.600"/>
  <path d="M813.200 176.600l12.400 5.600 12.400-5.600"/>
 </g>
 <!-- 10 hub -->
 <g stroke-width="1.300">
  <circle cx="952.800" cy="172.400" r="5.800"/>
  <circle cx="942" cy="162" r="2"/><path d="M943.500 163.500l5 4.700"/>
  <circle cx="953.600" cy="161.800" r="2"/><path d="M953.500 163.800l-.2 2.800"/>
  <circle cx="964" cy="165" r="2.300"/><path d="M962 166.200l-4 2.700"/>
  <circle cx="964.500" cy="179.200" r="1.300" fill="#2fa584"/><path d="M963.200 178.500l-5-3"/>
  <circle cx="948.600" cy="184" r="2.700"/><path d="M949.500 181.400l1.300-3.600"/>
  <circle cx="939.600" cy="174" r="2.300"/><path d="M942 173.800l5 -.7"/>
 </g>
 <!-- 11 users -->
 <g stroke-width="1.500">
  <circle cx="1024.800" cy="166.400" r="6.400"/>
  <path d="M1014.600 185.300c0-7.300 4.300-12 10.200-12s10.200 4.700 10.200 12"/>
  <path d="M1017.600 161.500c-3.200.3-5.200 2.700-5.200 5.800 0 2.600 1.500 4.800 3.700 5.600-4.300.9-7.200 4.600-7.300 10.400"/>
 </g>
 <!-- 12 chart -->
 <g stroke-width="1.500">
  <path d="M1112.500 160.500H1098a2 2 0 0 0-2 2v18.800a2 2 0 0 0 2 2h22.500a2 2 0 0 0 2-2V168"/>
  <path d="M1100.500 175.200l4-3.400 3.200 2.800 12.600-11.600" stroke-width="1.500"/>
  <circle cx="1120.600" cy="163" r=".7" fill="#2fa584" stroke-width=".8"/>
 </g>
</svg>
<!-- connection lines -->
<svg width="1280" height="720" viewBox="0 0 1280 720" fill="none" stroke="#2c9bd6" stroke-width="1.25">
 <path d="M241 345.5H386"/>
 <path d="M241 451.5H276"/>
 <path d="M350 451.5H386"/>
 <path d="M350 574.5H386"/>
 <path d="M506 345.5H533.5V664.5"/>
 <path d="M506 451.5H563"/>
 <path d="M506 574.5H533.5"/>
</svg>

<!-- hardware boxes -->
<svg width="1280" height="720" viewBox="0 0 1280 720" fill="none">
 <g stroke="#a8e0fa" stroke-width="3" filter="url(#fGlow)" opacity=".55">
  <rect x="68.500" y="305.500" width="172" height="81" rx="11.500"/>
  <rect x="68.500" y="410.500" width="172" height="81" rx="11.500"/>
  <rect x="276.500" y="410.500" width="73" height="81" rx="11.500"/>
  <rect x="207.500" y="508.500" width="142" height="131.500" rx="11.500"/>
 </g>
 <g stroke="#2f7ba6" stroke-width="1" stroke-dasharray="2 2" fill="#fff">
  <rect x="68.500" y="305.500" width="172" height="81" rx="11.500"/>
  <rect x="68.500" y="410.500" width="172" height="81" rx="11.500"/>
  <rect x="276.500" y="410.500" width="73" height="81" rx="11.500"/>
  <rect x="207.500" y="508.500" width="142" height="131.500" rx="11.500"/>
  <rect x="562.500" y="375.500" width="72.500" height="151.500" rx="6"/>
  <rect x="386.500" y="300.500" width="119.500" height="70" rx="3"/>
  <rect x="386.500" y="405.500" width="119.500" height="70" rx="3"/>
  <rect x="386.500" y="529.500" width="119.500" height="70" rx="3"/>
 </g>
</svg>


<div class="lb" style="left:102.5px;top:360px">空调面板</div>
<div class="lb" style="left:154px;top:360px">灯控面板</div>
<div class="lb" style="left:208px;top:360px">门禁面板</div>
<div class="lb" style="left:117.5px;top:466px;letter-spacing:.15px">485空调网关</div>
<div class="lb" style="left:186.5px;top:466px;letter-spacing:.15px">485电表</div>
<div class="lb" style="left:312.5px;top:457px">多路集控器</div>
<div class="lb" style="left:246px;top:555px">多功能传感器</div>
<div class="lb" style="left:313px;top:555px">雷达传感器</div>
<div class="lb" style="left:245px;top:618px">门磁</div>
<div class="lb" style="left:311.5px;top:618px">二氧化碳</div>

<!-- component boxes -->
<div class="gbar" style="top:366px">外协无线设备</div>
<div class="gbar" style="top:472px">无线协议转换设备</div>
<div class="gbar" style="top:596px">低功耗无线感知设备</div>
<div class="gbar" style="top:646px;height:36px;line-height:35px;background:#3bafe9">第三方厂家设备</div>

<div class="sm" style="left:445.5px;top:352px;color:#777">433模组</div>
<div class="sm" style="left:404px;top:457px;color:#aaa">单片机</div>
<div class="sm" style="left:442.5px;top:457px;color:#aaa"><b>WI-FI</b>模组</div>
<div class="sm" style="left:484px;top:457px;color:#aaa"><b>433</b>模组</div>
<div class="sm" style="left:419px;top:582px;color:#aaa">单片机</div>
<div class="sm" style="left:461px;top:582px;color:#aaa"><b>433</b>模组</div>

<!-- gateway box -->
<div class="sm" style="left:599.5px;top:420.5px;color:#555">IOT 网关</div>
<div class="sm" style="left:599.5px;top:507px;color:#555">边缘计算网关</div>

<!-- clouds -->
<svg width="1280" height="720" viewBox="0 0 1280 720">
 <defs>
  <path id="cloud" d="M17 51.5 C7 51.5 0 43.5 0 34.5 C0 25 7.5 17.5 17 17.5 C18.3 17.5 19.6 17.6 20.8 17.9 C23 7.5 32 0 43 0 C55 0 64.8 9.3 65.6 21 C67 20.7 68.4 20.5 70 20.5 C78 20.5 84.5 27.5 84.5 36 C84.5 44.5 78 51.5 70 51.5 Z"/>
 </defs>
 <use href="#cloud" x="671" y="425.5" fill="#27b9c9"/>
 <use href="#cloud" x="777" y="425.5" fill="#0b57b8"/>
 <use href="#cloud" x="671.5" y="638" fill="#27b9c9"/>
</svg>
<div class="ct" style="left:711.5px;top:450px">倍联 PAAS</div>
<div class="ct" style="left:819px;top:450px">倍联 SAAS</div>
<div class="ct" style="left:712px;top:663px;font-size:11px;font-weight:400">第三方云</div>
<svg width="1280" height="720" viewBox="0 0 1280 720">
 <g fill="none" stroke-width="1.25">
  <path d="M635 451.5H820" stroke="#2c9bd6"/>
  <path d="M713.5 451.5V664.5" stroke="#2c86c8"/>
  <path d="M479 664.5H713.5" stroke="#2c86c8"/>
  <path d="M861 451.5H908.5" stroke="#1d5ea8"/>
  <path d="M926 356.5H908.5V544.5H926" stroke="#1d5ea8"/>
  <path d="M1003 351.5H1036" stroke="#2aa0c4"/>
  <path d="M1003 444.5H1036" stroke="#5aa64e"/>
  <path d="M1003 541.5H1036.5" stroke="#2c8fd0"/>
  <path d="M1051 506.5H1036.5V573.5H1051" stroke="#2c8fd0"/>
 </g>
</svg>
<div class="lb" style="left:571px;top:620.8px;font-size:11.3px">本地协议对接</div>
<div class="lb" style="left:754px;top:620.8px;font-size:11.3px">云云API对接</div>

<!-- apps -->
<div class="app" style="left:966.5px;top:375px">BestCon<br>APP</div>
<div class="app" style="left:967px;top:462px;letter-spacing:0">小电管家<br>小程序</div>
<div class="app" style="left:966.5px;top:562px">BWP<br>Web平台</div>

<div class="tobox" style="top:337px;background:#cdecfc">ToC</div>
<div class="tobox" style="top:429.5px;background:#c6e6c4">To小B</div>
<div class="tobox" style="top:493px;background:#bfe0f8">To大B</div>
<div class="tobox" style="top:557.5px;background:#bfe0f8">ToG</div>
<!-- product illustrations -->
<svg width="1280" height="720" viewBox="0 0 1280 720">
 <defs>
  <linearGradient id="gPanel" x1="0" y1="0" x2="1" y2="1"><stop offset="0" stop-color="#f7f8f9"/><stop offset="1" stop-color="#eceef0"/></linearGradient>
  <radialGradient id="gDial" cx=".5" cy=".5" r=".5"><stop offset="0" stop-color="#e3eaff"/><stop offset=".8" stop-color="#c9d6fb"/><stop offset="1" stop-color="#b9c6ee"/></radialGradient>
  <linearGradient id="gSw" x1="0" y1="0" x2="1" y2="0"><stop offset="0" stop-color="#f6f6f6"/><stop offset=".5" stop-color="#f1f1f1"/><stop offset="1" stop-color="#f7f7f7"/></linearGradient>
  <linearGradient id="gSens" x1="0" y1="0" x2="1" y2="1"><stop offset="0" stop-color="#f6f6f6"/><stop offset="1" stop-color="#e9e9e9"/></linearGradient>
  <linearGradient id="gShield" x1="0" y1="0" x2="1" y2="1"><stop offset="0" stop-color="#eef1ee"/><stop offset="1" stop-color="#dfe4e0"/></linearGradient>
  <filter id="fSoft" x="-5%" y="-5%" width="110%" height="110%"><feGaussianBlur stdDeviation=".35"/></filter>
  <g id="mod433">
   <!-- 33 x 41 -->
   <rect x="1" y="9" width="31" height="32" rx="1" fill="#c9cfca"/>
   <rect x="0.500" y="0" width="32" height="11" rx="1" fill="#0f2b3b"/>
   <rect x="13" y="1.500" width="6" height="2" fill="#2d5972"/><rect x="21" y="2.800" width="8" height="2.600" fill="#224f6b"/><rect x="24" y="7" width="6.500" height="2" fill="#32607a"/><rect x="3" y="4" width="7" height="1.200" fill="#1d4258"/>
   <g fill="#1b2a2e"><rect x="0" y="11.5" width="3.200" height="2"/><rect x="29.800" y="11.5" width="3.200" height="2"/><rect x="0" y="14.6" width="3.200" height="2"/><rect x="29.800" y="14.6" width="3.200" height="2"/><rect x="0" y="17.7" width="3.200" height="2"/><rect x="29.800" y="17.7" width="3.200" height="2"/><rect x="0" y="20.8" width="3.200" height="2"/><rect x="29.800" y="20.8" width="3.200" height="2"/><rect x="0" y="23.9" width="3.200" height="2"/><rect x="29.800" y="23.9" width="3.200" height="2"/><rect x="0" y="27" width="3.200" height="2"/><rect x="29.800" y="27" width="3.200" height="2"/><rect x="0" y="30.1" width="3.200" height="2"/><rect x="29.800" y="30.1" width="3.200" height="2"/><rect x="0" y="33.2" width="3.200" height="2"/><rect x="29.800" y="33.2" width="3.200" height="2"/><rect x="0" y="36.3" width="3.200" height="2"/><rect x="29.800" y="36.3" width="3.200" height="2"/></g>
   <rect x="3.600" y="9.800" width="25.800" height="30.400" rx="1" fill="#f1f3f0"/>
   <rect x="3.600" y="9.800" width="25.800" height="30.400" rx="1" fill="none" stroke="#aeb5ae" stroke-width=".5"/>
   <rect x="5" y="11" width="11" height="1.600" fill="#c6ccc2"/>
   <g fill="#2f383b"><rect x="16.500" y="16.500" width="11.500" height="11.500" fill="#6b777a"/><rect x="17.300" y="17.300" width="3.200" height="3.200"/><rect x="24" y="17.300" width="3.200" height="3.200"/><rect x="17.300" y="24" width="3.200" height="3.200"/><rect x="21.300" y="21" width="2.600" height="2.600"/><rect x="24.500" y="23.500" width="2.200" height="3.500"/><rect x="21" y="17.500" width="1.500" height="1.500"/><rect x="22" y="25.500" width="1.500" height="1.500"/></g>
   <g fill="#8d9694"><rect x="6" y="17" width="8" height="1"/><rect x="6" y="20" width="5" height="1"/><rect x="6" y="23" width="7" height="1"/><rect x="6" y="26" width="4" height="1"/><rect x="6" y="30" width="16" height="1"/><rect x="6" y="33" width="4" height="1"/><rect x="6" y="36" width="18" height="1.200"/></g>
  </g>
  <g id="modwifi">
   <!-- 27.500 x 41.500 -->
   <rect x="0" y="0" width="27.500" height="41.500" rx="1" fill="#1c2d31"/>
   <rect x="0.800" y="0" width="25.900" height="12.800" fill="#0e4b60"/>
   <path d="M3 11h4v-2h3v2h4v-2h3v2h4" stroke="#1f6a82" stroke-width=".8" fill="none"/>
   <g fill="#0f1a1c"><rect x="24.800" y="15.5" width="2.700" height="2"/><rect x="24.800" y="18.6" width="2.700" height="2"/><rect x="24.800" y="21.7" width="2.700" height="2"/><rect x="24.800" y="24.8" width="2.700" height="2"/><rect x="24.800" y="27.9" width="2.700" height="2"/><rect x="24.800" y="31" width="2.700" height="2"/><rect x="24.800" y="34.1" width="2.700" height="2"/><rect x="24.800" y="37.2" width="2.700" height="2"/></g>
   <rect x="2.500" y="13" width="22" height="27.800" rx=".8" fill="#f0f3f0"/>
   <g fill="#3a4446"><rect x="4" y="16" width="12.500" height="12" fill="#8a9696"/><rect x="4.500" y="16.500" width="3.500" height="3.500"/><rect x="12" y="16.500" width="4" height="3"/><rect x="4.500" y="23.500" width="3.500" height="4"/><rect x="9" y="20" width="3" height="3"/><rect x="12.500" y="24" width="3.500" height="3.500"/></g>
   <g fill="#a4acaa"><rect x="19" y="16" width=".9" height="20"/><rect x="21.500" y="16" width=".9" height="20"/><rect x="8.500" y="30" width=".9" height="8"/></g>
  </g>
  <g id="mcu">
   <rect x="0" y="0" width="24.500" height="25" rx="4.500" fill="#2c3e4b"/>
   <rect x="2" y="2" width="20.500" height="21" rx="3.500" fill="#2f4250"/>
   <path d="M5 8.500h14M5 14h14" stroke="#34495a" stroke-width="1"/>
  </g>
 </defs>

 <!-- thermostat -->
 <rect x="85.600" y="320.600" width="34.200" height="32.200" rx="1.500" fill="url(#gPanel)" stroke="#e6e8ea" stroke-width=".6"/>
 <circle cx="103.300" cy="337.200" r="12" fill="url(#gDial)" stroke="#6a7082" stroke-width="1.100"/>
 <text x="102.800" y="341.200" font-family="Liberation Sans,sans-serif" font-weight="700" font-size="9" text-anchor="middle" fill="#3a4055">26</text>
 <path d="M99 345.200h7" stroke="#5560a8" stroke-width="1"/>
 <path d="M88.500 350.500l2-2M117 350.500l-2-2" stroke="#c3c7cc" stroke-width=".8"/>
 <!-- light switch -->
 <rect x="139.200" y="319.400" width="33.400" height="32.800" rx="1.500" fill="url(#gSw)" stroke="#ececec" stroke-width=".6"/>
 <path d="M151.700 320v31.500M160.900 320v31.500M167.300 320v31.500" stroke="#e6e6e6" stroke-width=".8"/>
 <!-- door panel -->
 <rect x="197.800" y="314" width="22.200" height="38.400" rx="1.500" fill="#9a9d9e"/>
 <rect x="198.600" y="314.800" width="20.600" height="35" rx="1.200" fill="#0b0b0c"/>
 <rect x="203" y="325.500" width="12.500" height="21" fill="#2a2b2d"/>
 <path d="M207.200 326v20M211.300 326v20" stroke="#1a1a1b" stroke-width=".6"/>
 <circle cx="204" cy="320" r="1.100" fill="#f4f4f4"/><circle cx="214.800" cy="320" r="1.100" fill="#f4f4f4"/>
 <!-- 485 gateway -->
 <rect x="97" y="434.700" width="33.700" height="27" rx="1.200" fill="#e3e4e4"/>
 <rect x="97" y="434.700" width="33.700" height="5" fill="#efefef"/>
 <rect x="97" y="457" width="33.700" height="4.700" fill="#dadbdb"/>
 <path d="M113 437.200h9" stroke="#cfcfcf" stroke-width="1"/>
 <rect x="101.800" y="444.800" width="10.800" height="5.600" fill="#5b5d60"/>
 <g fill="#6d6f72"><rect x="115" y="446.300" width="1.100" height="1.500"/><rect x="118" y="446.300" width="1.100" height="1.500"/><rect x="121" y="446.300" width="1.100" height="1.500"/><rect x="124" y="446.300" width="1.100" height="1.500"/><rect x="126.500" y="446.300" width="1.100" height="1.500"/>
 <rect x="115.300" y="450" width="2.200" height="2.200" rx=".6"/><rect x="119.600" y="450" width="2.200" height="2.200" rx=".6"/><rect x="123.800" y="450" width="2.200" height="2.200" rx=".6"/></g>
 <!-- meter -->
 <rect x="174.200" y="424.600" width="26.200" height="37.400" rx="1" fill="#eef1f3" stroke="#dfe3e6" stroke-width=".5"/>
 <rect x="180" y="428.600" width="15.200" height="21" fill="#9fb0d6"/>
 <rect x="181" y="430.400" width="13.200" height="9" fill="#55628f"/>
 <rect x="181" y="440.500" width="13.200" height="4" fill="#7d90c2"/>
 <rect x="181.800" y="445.500" width="11.600" height="3" fill="#dfe5f2"/>
 <rect x="174.200" y="454.200" width="26.200" height="7.800" fill="#8494a8"/>
 <rect x="175" y="456.500" width="24.600" height="2.600" fill="#5e6f86"/>
 <rect x="186" y="455.500" width="3" height="4" fill="#a9b6c6"/>
 <ellipse cx="198.800" cy="427" rx="1.300" ry="1.700" fill="#5a1f26"/>
 <!-- multi controller -->
 <g filter="url(#fSoft)">
 <path d="M289.800 431.200l1.500-.3 3.200 17.300-1.700.4zM294.400 433l1.400-.3 2.600 14-1.600.4z" fill="#cfd0d1"/>
 <path d="M297 437.200L331.500 430.800L336 434.500L302 441.800z" fill="#d6d7d7"/>
 <path d="M304.500 436.600l10-1.800 1.500 1.200-10 1.900z" fill="#5d6062"/>
 <path d="M302 441.800L336 434.500V445.500L302.500 454z" fill="#e6e6e6"/>
 <path d="M297 437.200L302 441.800L302.500 454L297.500 449z" fill="#c6c7c8"/>
 <path d="M304.500 447.800l12.500-3v1.500l-12.500 3.100zM320.500 443.900l10.500-2.500v1.400l-10.500 2.600z" fill="#4a4d50"/>
 <path d="M302.200 444.300L336 436.800" stroke="#cfd0d0" stroke-width=".9"/>
 <path d="M303 446.200L336 438.800" stroke="#dadada" stroke-width=".6"/>
 </g>
 <!-- sensors -->
 <rect x="230" y="519.500" width="31.600" height="30" rx="5" fill="url(#gSens)" stroke="#e8e8e8" stroke-width=".5"/>
 <circle cx="245.200" cy="529" r="4.200" fill="#fafafa" stroke="#e0e0e0" stroke-width=".8"/>
 <circle cx="256" cy="528.600" r=".9" fill="#777"/>
 <rect x="301.700" y="517" width="19" height="33" rx="4" fill="url(#gSens)" stroke="#e9e9e9" stroke-width=".5"/>
 <path d="M304 533.500h14.500M311 521l4 6" stroke="#e2e2e2" stroke-width=".8" fill="none"/>
 <rect x="232.500" y="580.600" width="16.500" height="34.800" rx="2.500" fill="url(#gSens)" stroke="#e6e6e6" stroke-width=".5"/>
 <rect x="252.800" y="590.200" width="6.600" height="19.200" rx="1.500" fill="url(#gSens)" stroke="#e2e2e2" stroke-width=".5"/>
 <path d="M296.500 591.500q0-2 2-2l24.500 1.500q5 .5 5.200 5v13q0 3-3 3h-26q-2.700 0-2.700-2.700z" fill="#e4e4e2"/>
 <rect x="295" y="591" width="29.500" height="20.500" rx="3.500" fill="#9c9c99"/>
 <rect x="296.500" y="592.500" width="26.500" height="17.500" rx="2.500" fill="#a6a6a3"/>
 <!-- modules -->
 <use href="#mod433" x="428.500" y="308"/>
 <use href="#mcu" x="391.700" y="420"/>
 <use href="#modwifi" x="429.100" y="412"/>
 <use href="#mod433" x="468" y="412"/>
 <use href="#mcu" x="407" y="545.600"/>
 <use href="#mod433" x="445.400" y="537.500"/>
 <!-- IOT gateway -->
 <path d="M569.800 394.600L613.500 387.800L628 393.600L580.500 405.200z" fill="#f3f3f3"/>
 <path d="M580.500 405.200L628 393.600V407.200L581 417.900z" fill="#fbfbfb"/>
 <path d="M569.800 394.600L580.500 405.200L581 417.900L570.500 406.200z" fill="#e6e6e6"/>
 <path d="M569.800 394.600L613.500 387.800L628 393.600V407.200L581 417.900L570.500 406.200z" fill="none" stroke="#e9e9e9" stroke-width=".6"/>
 <path d="M602.600 402.600l3.600-.9v3l-3.600.9zM612.800 398.600l3.400-.8v3.200l-3.400.8z" fill="#3a3a3a"/>
 <!-- edge gateway -->
 <g filter="url(#fSoft)">
 <path d="M576 480.500L582 473.500L609.600 460.200L624 478.600V482L597.500 501.800L576 489.500z" fill="#0d0e10"/>
 <path d="M576 481.500L597.500 494.500L624 478.800" stroke="#2b2d31" stroke-width=".8" fill="none"/>
 <path d="M583 473.500l17-8.400 2.200 2.600-17 8.600z" fill="#1d1f23"/>
 <path d="M592.800 490.900L602.500 486.200L609.200 494L598.700 500.600z" fill="#8ed659"/>
 <path d="M592.800 490.900L598.700 497.500V500.600L592.800 494z" fill="#62ad38"/>
 <path d="M598.700 497.500L609.200 491.500V494L598.700 500.600z" fill="#79c548"/>
 <path d="M601.400 484.600l7-3.400 2.600 3-7 3.600z" fill="#dfe1e3"/>
 <path d="M608.400 480.200l6-3 2.400 2.800-6 3.100z" fill="#cfd2d5"/>
 <path d="M614 474l5.500-2.800 4 5-5.400 3z" fill="#e6e7e9"/>
 <path d="M609 469.500l4.500-2.300 2.500 3-4.500 2.400z" fill="#b8bbbf"/>
 <circle cx="585.500" cy="484" r="1.500" fill="#d8d8d8"/><circle cx="589.500" cy="488" r="1.300" fill="#c8b070"/><circle cx="593.500" cy="479.500" r="1.300" fill="#cfcfcf"/><circle cx="582" cy="486.500" r="1" fill="#aaa"/>
 <path d="M596 476l5-2.500 2 2.400-5 2.600z" fill="#2a2d33"/>
 </g>
</svg>
<!-- app icons + logo -->
<svg width="1280" height="720" viewBox="0 0 1280 720">
 <defs>
  <linearGradient id="gBwp" x1="0" y1="0" x2="0" y2="1"><stop offset="0" stop-color="#2a97f0"/><stop offset="1" stop-color="#1b7fdd"/></linearGradient>
  <linearGradient id="gGrn" x1="0" y1="0" x2="0" y2="1"><stop offset="0" stop-color="#5dbb45"/><stop offset="1" stop-color="#45a935"/></linearGradient>
 </defs>
 <!-- BestCon -->
 <rect x="950.400" y="334.400" width="35.600" height="35" rx="8" fill="#fff" stroke="#e3e4ea" stroke-width=".8"/>
 <rect x="962" y="342.500" width="16.500" height="16.500" rx="5.500" fill="#1f9df1"/>
 <rect x="956" y="342" width="15" height="17.500" rx="5.500" fill="#0a57cf"/>
 <text x="967.300" y="357" font-family="Liberation Serif,serif" font-weight="700" font-size="16" text-anchor="middle" fill="#fff">B</text>
 <!-- green shield -->
 <rect x="951.800" y="420" width="31.600" height="31.600" rx="7" fill="url(#gGrn)"/>
 <path d="M967.600 426.600c3 2 5.800 2.700 8.600 2.800v6.600c0 4.600-3.400 8-8.600 9.800-5.200-1.800-8.600-5.200-8.600-9.800v-6.600c2.800-.1 5.600-.8 8.600-2.800z" fill="#fff" stroke="#d6f0cf" stroke-width="1.600"/>
 <path d="M968.800 430.800l-3.600 5.600h2.600l-1.200 4.600 4-6h-2.700z" fill="#52b23e"/>
 <!-- BWP -->
 <rect x="949" y="520.400" width="36" height="36.300" rx="8.500" fill="url(#gBwp)"/>
 <g fill="none" stroke="#e4f2ff" stroke-width="1.200">
  <ellipse cx="967" cy="538.500" rx="13.500" ry="5.600"/>
  <ellipse cx="967" cy="538.500" rx="13.500" ry="5.600" transform="rotate(60 967 538.500)"/>
  <ellipse cx="967" cy="538.500" rx="13.500" ry="5.600" transform="rotate(-60 967 538.500)"/>
 </g>
 <circle cx="967" cy="538.500" r="3.300" fill="#7cc0f8" stroke="#d6ebff" stroke-width=".8"/>
 <!-- logo -->
 <rect x="1120.500" y="58.700" width="27" height="26.600" rx="8" fill="#6d9eda"/>
 <rect x="1128.400" y="65.900" width="12" height="13.200" rx="2.500" fill="#5f93d6" stroke="#fff" stroke-width="2.200"/>
 <path d="M1141.500 74v6.300h-6.500" stroke="#6d9eda" stroke-width="1.300" fill="none"/>
</svg>
<div class="abs" style="left:1155px;top:60.500px;font-size:17px;line-height:24px;font-weight:900;color:#1b1b1b;letter-spacing:0;transform-origin:0 50%;transform:scaleX(1.240) skewX(-7deg);white-space:nowrap">倍联</div>
</div>
</body>
</html>
